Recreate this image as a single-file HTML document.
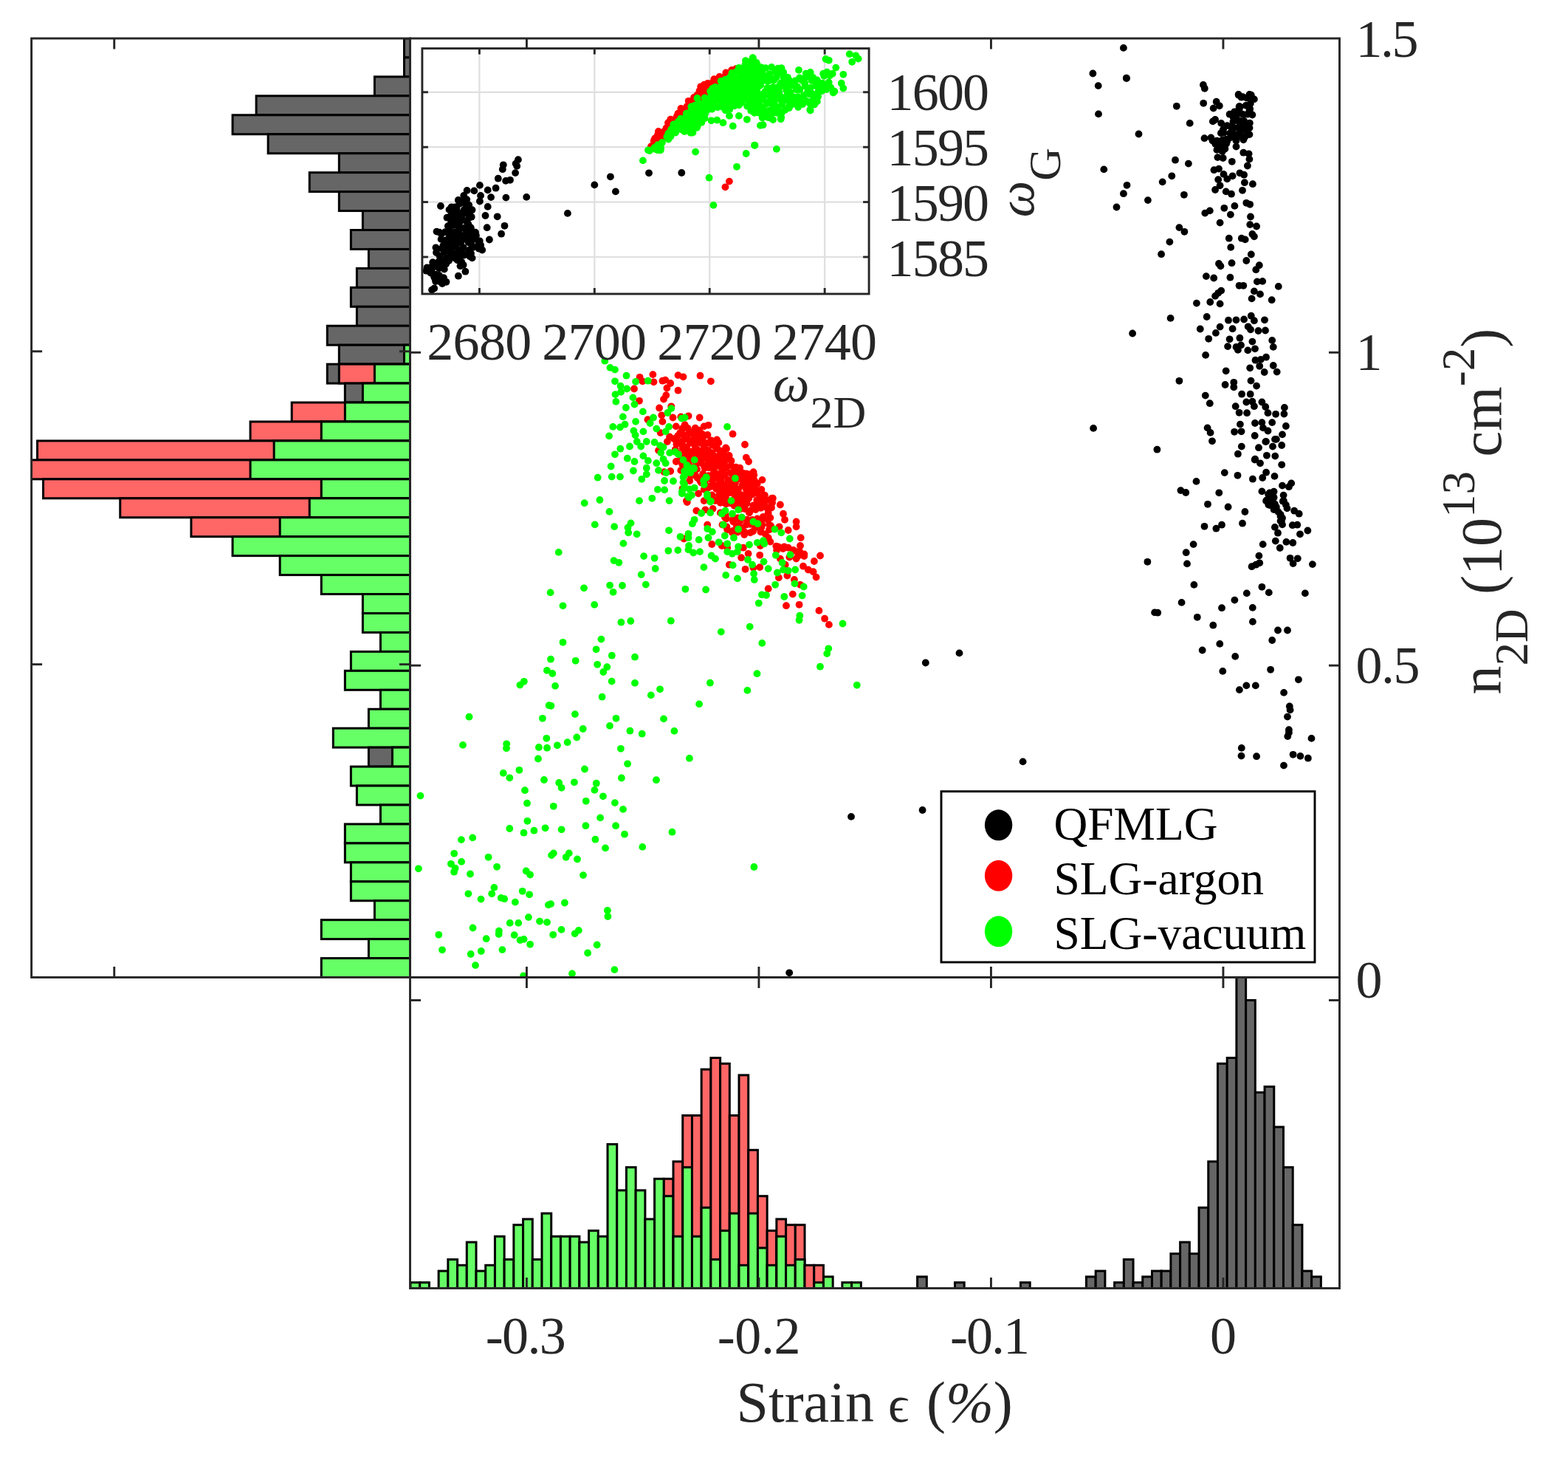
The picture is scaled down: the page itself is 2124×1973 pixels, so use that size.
<!DOCTYPE html><html><head><meta charset="utf-8"><title>Strain vs carrier density</title><style>html,body{margin:0;padding:0;background:#fff;width:2124px;height:1973px;overflow:hidden}</style></head><body><svg width="2124" height="1973" viewBox="0 0 2124 1973" style="position:absolute;left:0;top:0">
<defs><clipPath id="cm"><rect x="555.5" y="52.0" width="1259.0" height="1271.5"/></clipPath><clipPath id="cb"><rect x="555.5" y="1323.5" width="1259.0" height="421.0"/></clipPath><clipPath id="cl"><rect x="42.6" y="52.0" width="512.9" height="1271.5"/></clipPath><clipPath id="ci"><rect x="571.9" y="65.6" width="605.1999999999999" height="332.4"/></clipPath></defs>
<rect x="0" y="0" width="2124" height="1973" fill="#fff"/>
<g clip-path="url(#cl)">
<rect x="547.49" y="52.00" width="8.01" height="25.95" fill="#666666" stroke="#000" stroke-width="3.0" />
<rect x="547.49" y="77.95" width="8.01" height="25.95" fill="#666666" stroke="#000" stroke-width="3.0" />
<rect x="507.41" y="103.90" width="48.09" height="25.95" fill="#666666" stroke="#000" stroke-width="3.0" />
<rect x="347.11" y="129.85" width="208.39" height="25.95" fill="#666666" stroke="#000" stroke-width="3.0" />
<rect x="315.05" y="155.80" width="240.45" height="25.95" fill="#666666" stroke="#000" stroke-width="3.0" />
<rect x="363.14" y="181.75" width="192.36" height="25.95" fill="#666666" stroke="#000" stroke-width="3.0" />
<rect x="459.32" y="207.70" width="96.18" height="25.95" fill="#666666" stroke="#000" stroke-width="3.0" />
<rect x="419.25" y="233.65" width="136.25" height="25.95" fill="#666666" stroke="#000" stroke-width="3.0" />
<rect x="459.32" y="259.60" width="96.18" height="25.95" fill="#666666" stroke="#000" stroke-width="3.0" />
<rect x="491.38" y="285.55" width="64.12" height="25.95" fill="#666666" stroke="#000" stroke-width="3.0" />
<rect x="475.35" y="311.50" width="80.15" height="25.95" fill="#666666" stroke="#000" stroke-width="3.0" />
<rect x="499.39" y="337.45" width="56.11" height="25.95" fill="#666666" stroke="#000" stroke-width="3.0" />
<rect x="483.37" y="363.40" width="72.13" height="25.95" fill="#666666" stroke="#000" stroke-width="3.0" />
<rect x="475.35" y="389.35" width="80.15" height="25.95" fill="#666666" stroke="#000" stroke-width="3.0" />
<rect x="483.37" y="415.30" width="72.13" height="25.95" fill="#666666" stroke="#000" stroke-width="3.0" />
<rect x="443.29" y="441.25" width="112.21" height="25.95" fill="#666666" stroke="#000" stroke-width="3.0" />
<rect x="459.32" y="467.20" width="96.18" height="25.95" fill="#666666" stroke="#000" stroke-width="3.0" />
<rect x="547.49" y="467.20" width="8.01" height="25.95" fill="#66ff66" stroke="#000" stroke-width="3.0" />
<rect x="443.29" y="493.15" width="112.21" height="25.95" fill="#666666" stroke="#000" stroke-width="3.0" />
<rect x="459.32" y="493.15" width="96.18" height="25.95" fill="#ff6666" stroke="#000" stroke-width="3.0" />
<rect x="507.41" y="493.15" width="48.09" height="25.95" fill="#66ff66" stroke="#000" stroke-width="3.0" />
<rect x="467.33" y="519.10" width="88.17" height="25.95" fill="#666666" stroke="#000" stroke-width="3.0" />
<rect x="491.38" y="519.10" width="64.12" height="25.95" fill="#66ff66" stroke="#000" stroke-width="3.0" />
<rect x="395.20" y="545.05" width="160.30" height="25.95" fill="#ff6666" stroke="#000" stroke-width="3.0" />
<rect x="467.33" y="545.05" width="88.17" height="25.95" fill="#66ff66" stroke="#000" stroke-width="3.0" />
<rect x="339.09" y="571.00" width="216.41" height="25.95" fill="#ff6666" stroke="#000" stroke-width="3.0" />
<rect x="435.27" y="571.00" width="120.23" height="25.95" fill="#66ff66" stroke="#000" stroke-width="3.0" />
<rect x="50.55" y="596.95" width="504.95" height="25.95" fill="#ff6666" stroke="#000" stroke-width="3.0" />
<rect x="371.15" y="596.95" width="184.35" height="25.95" fill="#66ff66" stroke="#000" stroke-width="3.0" />
<rect x="-5.55" y="622.90" width="561.05" height="25.95" fill="#ff6666" stroke="#000" stroke-width="3.0" />
<rect x="339.09" y="622.90" width="216.41" height="25.95" fill="#66ff66" stroke="#000" stroke-width="3.0" />
<rect x="58.57" y="648.85" width="496.93" height="25.95" fill="#ff6666" stroke="#000" stroke-width="3.0" />
<rect x="435.27" y="648.85" width="120.23" height="25.95" fill="#66ff66" stroke="#000" stroke-width="3.0" />
<rect x="162.76" y="674.80" width="392.74" height="25.95" fill="#ff6666" stroke="#000" stroke-width="3.0" />
<rect x="419.25" y="674.80" width="136.25" height="25.95" fill="#66ff66" stroke="#000" stroke-width="3.0" />
<rect x="258.94" y="700.75" width="296.56" height="25.95" fill="#ff6666" stroke="#000" stroke-width="3.0" />
<rect x="379.17" y="700.75" width="176.33" height="25.95" fill="#66ff66" stroke="#000" stroke-width="3.0" />
<rect x="315.05" y="726.70" width="240.45" height="25.95" fill="#66ff66" stroke="#000" stroke-width="3.0" />
<rect x="379.17" y="752.65" width="176.33" height="25.95" fill="#66ff66" stroke="#000" stroke-width="3.0" />
<rect x="435.27" y="778.60" width="120.23" height="25.95" fill="#66ff66" stroke="#000" stroke-width="3.0" />
<rect x="491.38" y="804.55" width="64.12" height="25.95" fill="#66ff66" stroke="#000" stroke-width="3.0" />
<rect x="491.38" y="830.50" width="64.12" height="25.95" fill="#66ff66" stroke="#000" stroke-width="3.0" />
<rect x="515.42" y="856.45" width="40.08" height="25.95" fill="#66ff66" stroke="#000" stroke-width="3.0" />
<rect x="475.35" y="882.40" width="80.15" height="25.95" fill="#66ff66" stroke="#000" stroke-width="3.0" />
<rect x="467.33" y="908.35" width="88.17" height="25.95" fill="#66ff66" stroke="#000" stroke-width="3.0" />
<rect x="515.42" y="934.30" width="40.08" height="25.95" fill="#66ff66" stroke="#000" stroke-width="3.0" />
<rect x="499.39" y="960.25" width="56.11" height="25.95" fill="#66ff66" stroke="#000" stroke-width="3.0" />
<rect x="451.31" y="986.20" width="104.19" height="25.95" fill="#66ff66" stroke="#000" stroke-width="3.0" />
<rect x="499.39" y="1012.15" width="56.11" height="25.95" fill="#666666" stroke="#000" stroke-width="3.0" />
<rect x="531.46" y="1012.15" width="24.04" height="25.95" fill="#66ff66" stroke="#000" stroke-width="3.0" />
<rect x="475.35" y="1038.10" width="80.15" height="25.95" fill="#66ff66" stroke="#000" stroke-width="3.0" />
<rect x="483.37" y="1064.05" width="72.13" height="25.95" fill="#66ff66" stroke="#000" stroke-width="3.0" />
<rect x="515.42" y="1090.00" width="40.08" height="25.95" fill="#66ff66" stroke="#000" stroke-width="3.0" />
<rect x="467.33" y="1115.95" width="88.17" height="25.95" fill="#66ff66" stroke="#000" stroke-width="3.0" />
<rect x="467.33" y="1141.90" width="88.17" height="25.95" fill="#66ff66" stroke="#000" stroke-width="3.0" />
<rect x="475.35" y="1167.85" width="80.15" height="25.95" fill="#66ff66" stroke="#000" stroke-width="3.0" />
<rect x="475.35" y="1193.80" width="80.15" height="25.95" fill="#66ff66" stroke="#000" stroke-width="3.0" />
<rect x="507.41" y="1219.75" width="48.09" height="25.95" fill="#66ff66" stroke="#000" stroke-width="3.0" />
<rect x="435.27" y="1245.70" width="120.23" height="25.95" fill="#66ff66" stroke="#000" stroke-width="3.0" />
<rect x="499.39" y="1271.65" width="56.11" height="25.95" fill="#66ff66" stroke="#000" stroke-width="3.0" />
<rect x="435.27" y="1297.60" width="120.23" height="25.95" fill="#66ff66" stroke="#000" stroke-width="3.0" />
</g>
<g clip-path="url(#cb)">
<rect x="556.00" y="1736.70" width="12.72" height="7.80" fill="#66ff66" stroke="#000" stroke-width="3.0" />
<rect x="568.72" y="1736.70" width="12.71" height="7.80" fill="#66ff66" stroke="#000" stroke-width="3.0" />
<rect x="594.14" y="1721.10" width="12.72" height="23.40" fill="#66ff66" stroke="#000" stroke-width="3.0" />
<rect x="606.86" y="1705.50" width="12.72" height="39.00" fill="#66ff66" stroke="#000" stroke-width="3.0" />
<rect x="619.58" y="1713.30" width="12.71" height="31.20" fill="#66ff66" stroke="#000" stroke-width="3.0" />
<rect x="632.29" y="1682.10" width="12.72" height="62.40" fill="#66ff66" stroke="#000" stroke-width="3.0" />
<rect x="645.00" y="1721.10" width="12.72" height="23.40" fill="#66ff66" stroke="#000" stroke-width="3.0" />
<rect x="657.72" y="1713.30" width="12.71" height="31.20" fill="#66ff66" stroke="#000" stroke-width="3.0" />
<rect x="670.43" y="1674.30" width="12.72" height="70.20" fill="#66ff66" stroke="#000" stroke-width="3.0" />
<rect x="683.15" y="1705.50" width="12.72" height="39.00" fill="#66ff66" stroke="#000" stroke-width="3.0" />
<rect x="695.87" y="1658.70" width="12.71" height="85.80" fill="#66ff66" stroke="#000" stroke-width="3.0" />
<rect x="708.58" y="1650.90" width="12.72" height="93.60" fill="#66ff66" stroke="#000" stroke-width="3.0" />
<rect x="721.29" y="1705.50" width="12.72" height="39.00" fill="#66ff66" stroke="#000" stroke-width="3.0" />
<rect x="734.01" y="1643.10" width="12.72" height="101.40" fill="#66ff66" stroke="#000" stroke-width="3.0" />
<rect x="746.73" y="1674.30" width="12.72" height="70.20" fill="#66ff66" stroke="#000" stroke-width="3.0" />
<rect x="759.44" y="1674.30" width="12.71" height="70.20" fill="#66ff66" stroke="#000" stroke-width="3.0" />
<rect x="772.15" y="1674.30" width="12.72" height="70.20" fill="#66ff66" stroke="#000" stroke-width="3.0" />
<rect x="784.87" y="1682.10" width="12.72" height="62.40" fill="#66ff66" stroke="#000" stroke-width="3.0" />
<rect x="797.59" y="1666.50" width="12.71" height="78.00" fill="#66ff66" stroke="#000" stroke-width="3.0" />
<rect x="810.30" y="1674.30" width="12.72" height="70.20" fill="#66ff66" stroke="#000" stroke-width="3.0" />
<rect x="823.01" y="1549.50" width="12.72" height="195.00" fill="#66ff66" stroke="#000" stroke-width="3.0" />
<rect x="835.73" y="1611.90" width="12.71" height="132.60" fill="#66ff66" stroke="#000" stroke-width="3.0" />
<rect x="848.44" y="1580.70" width="12.72" height="163.80" fill="#66ff66" stroke="#000" stroke-width="3.0" />
<rect x="861.16" y="1611.90" width="12.72" height="132.60" fill="#66ff66" stroke="#000" stroke-width="3.0" />
<rect x="873.88" y="1650.90" width="12.71" height="93.60" fill="#66ff66" stroke="#000" stroke-width="3.0" />
<rect x="886.59" y="1596.30" width="12.72" height="148.20" fill="#66ff66" stroke="#000" stroke-width="3.0" />
<rect x="899.31" y="1596.30" width="12.71" height="148.20" fill="#ff6666" stroke="#000" stroke-width="3.0" />
<rect x="899.31" y="1619.70" width="12.71" height="124.80" fill="#66ff66" stroke="#000" stroke-width="3.0" />
<rect x="912.02" y="1572.90" width="12.72" height="171.60" fill="#ff6666" stroke="#000" stroke-width="3.0" />
<rect x="912.02" y="1674.30" width="12.72" height="70.20" fill="#66ff66" stroke="#000" stroke-width="3.0" />
<rect x="924.74" y="1510.50" width="12.72" height="234.00" fill="#ff6666" stroke="#000" stroke-width="3.0" />
<rect x="924.74" y="1580.70" width="12.72" height="163.80" fill="#66ff66" stroke="#000" stroke-width="3.0" />
<rect x="937.45" y="1510.50" width="12.71" height="234.00" fill="#ff6666" stroke="#000" stroke-width="3.0" />
<rect x="937.45" y="1674.30" width="12.71" height="70.20" fill="#66ff66" stroke="#000" stroke-width="3.0" />
<rect x="950.16" y="1448.10" width="12.72" height="296.40" fill="#ff6666" stroke="#000" stroke-width="3.0" />
<rect x="950.16" y="1635.30" width="12.72" height="109.20" fill="#66ff66" stroke="#000" stroke-width="3.0" />
<rect x="962.88" y="1432.50" width="12.72" height="312.00" fill="#ff6666" stroke="#000" stroke-width="3.0" />
<rect x="962.88" y="1705.50" width="12.72" height="39.00" fill="#66ff66" stroke="#000" stroke-width="3.0" />
<rect x="975.60" y="1440.30" width="12.71" height="304.20" fill="#ff6666" stroke="#000" stroke-width="3.0" />
<rect x="975.60" y="1666.50" width="12.71" height="78.00" fill="#66ff66" stroke="#000" stroke-width="3.0" />
<rect x="988.31" y="1510.50" width="12.72" height="234.00" fill="#ff6666" stroke="#000" stroke-width="3.0" />
<rect x="988.31" y="1643.10" width="12.72" height="101.40" fill="#66ff66" stroke="#000" stroke-width="3.0" />
<rect x="1001.02" y="1455.90" width="12.72" height="288.60" fill="#ff6666" stroke="#000" stroke-width="3.0" />
<rect x="1001.02" y="1713.30" width="12.72" height="31.20" fill="#66ff66" stroke="#000" stroke-width="3.0" />
<rect x="1013.74" y="1557.30" width="12.71" height="187.20" fill="#ff6666" stroke="#000" stroke-width="3.0" />
<rect x="1013.74" y="1643.10" width="12.71" height="101.40" fill="#66ff66" stroke="#000" stroke-width="3.0" />
<rect x="1026.45" y="1619.70" width="12.72" height="124.80" fill="#ff6666" stroke="#000" stroke-width="3.0" />
<rect x="1026.45" y="1689.90" width="12.72" height="54.60" fill="#66ff66" stroke="#000" stroke-width="3.0" />
<rect x="1039.17" y="1666.50" width="12.71" height="78.00" fill="#ff6666" stroke="#000" stroke-width="3.0" />
<rect x="1039.17" y="1713.30" width="12.71" height="31.20" fill="#66ff66" stroke="#000" stroke-width="3.0" />
<rect x="1051.88" y="1650.90" width="12.71" height="93.60" fill="#ff6666" stroke="#000" stroke-width="3.0" />
<rect x="1051.88" y="1674.30" width="12.71" height="70.20" fill="#66ff66" stroke="#000" stroke-width="3.0" />
<rect x="1064.60" y="1658.70" width="12.72" height="85.80" fill="#ff6666" stroke="#000" stroke-width="3.0" />
<rect x="1064.60" y="1713.30" width="12.72" height="31.20" fill="#66ff66" stroke="#000" stroke-width="3.0" />
<rect x="1077.32" y="1658.70" width="12.71" height="85.80" fill="#ff6666" stroke="#000" stroke-width="3.0" />
<rect x="1077.32" y="1705.50" width="12.71" height="39.00" fill="#66ff66" stroke="#000" stroke-width="3.0" />
<rect x="1090.03" y="1713.30" width="12.71" height="31.20" fill="#ff6666" stroke="#000" stroke-width="3.0" />
<rect x="1102.74" y="1713.30" width="12.72" height="31.20" fill="#ff6666" stroke="#000" stroke-width="3.0" />
<rect x="1102.74" y="1736.70" width="12.72" height="7.80" fill="#66ff66" stroke="#000" stroke-width="3.0" />
<rect x="1115.46" y="1728.90" width="12.71" height="15.60" fill="#66ff66" stroke="#000" stroke-width="3.0" />
<rect x="1140.89" y="1736.70" width="12.72" height="7.80" fill="#66ff66" stroke="#000" stroke-width="3.0" />
<rect x="1153.61" y="1736.70" width="12.71" height="7.80" fill="#66ff66" stroke="#000" stroke-width="3.0" />
<rect x="1242.61" y="1728.90" width="12.71" height="15.60" fill="#666666" stroke="#000" stroke-width="3.0" />
<rect x="1293.47" y="1736.70" width="12.71" height="7.80" fill="#666666" stroke="#000" stroke-width="3.0" />
<rect x="1382.47" y="1736.70" width="12.72" height="7.80" fill="#666666" stroke="#000" stroke-width="3.0" />
<rect x="1471.48" y="1728.90" width="12.71" height="15.60" fill="#666666" stroke="#000" stroke-width="3.0" />
<rect x="1484.19" y="1721.10" width="12.71" height="23.40" fill="#666666" stroke="#000" stroke-width="3.0" />
<rect x="1509.62" y="1736.70" width="12.72" height="7.80" fill="#666666" stroke="#000" stroke-width="3.0" />
<rect x="1522.34" y="1705.50" width="12.71" height="39.00" fill="#666666" stroke="#000" stroke-width="3.0" />
<rect x="1535.05" y="1736.70" width="12.72" height="7.80" fill="#666666" stroke="#000" stroke-width="3.0" />
<rect x="1547.77" y="1728.90" width="12.72" height="15.60" fill="#666666" stroke="#000" stroke-width="3.0" />
<rect x="1560.49" y="1721.10" width="12.71" height="23.40" fill="#666666" stroke="#000" stroke-width="3.0" />
<rect x="1573.20" y="1721.10" width="12.71" height="23.40" fill="#666666" stroke="#000" stroke-width="3.0" />
<rect x="1585.91" y="1697.70" width="12.71" height="46.80" fill="#666666" stroke="#000" stroke-width="3.0" />
<rect x="1598.63" y="1682.10" width="12.72" height="62.40" fill="#666666" stroke="#000" stroke-width="3.0" />
<rect x="1611.35" y="1697.70" width="12.71" height="46.80" fill="#666666" stroke="#000" stroke-width="3.0" />
<rect x="1624.06" y="1635.30" width="12.72" height="109.20" fill="#666666" stroke="#000" stroke-width="3.0" />
<rect x="1636.78" y="1572.90" width="12.71" height="171.60" fill="#666666" stroke="#000" stroke-width="3.0" />
<rect x="1649.49" y="1440.30" width="12.71" height="304.20" fill="#666666" stroke="#000" stroke-width="3.0" />
<rect x="1662.20" y="1432.50" width="12.72" height="312.00" fill="#666666" stroke="#000" stroke-width="3.0" />
<rect x="1674.92" y="1276.50" width="12.71" height="468.00" fill="#666666" stroke="#000" stroke-width="3.0" />
<rect x="1687.63" y="1354.50" width="12.71" height="390.00" fill="#666666" stroke="#000" stroke-width="3.0" />
<rect x="1700.35" y="1479.30" width="12.72" height="265.20" fill="#666666" stroke="#000" stroke-width="3.0" />
<rect x="1713.07" y="1471.50" width="12.71" height="273.00" fill="#666666" stroke="#000" stroke-width="3.0" />
<rect x="1725.78" y="1526.10" width="12.71" height="218.40" fill="#666666" stroke="#000" stroke-width="3.0" />
<rect x="1738.49" y="1580.70" width="12.72" height="163.80" fill="#666666" stroke="#000" stroke-width="3.0" />
<rect x="1751.21" y="1658.70" width="12.71" height="85.80" fill="#666666" stroke="#000" stroke-width="3.0" />
<rect x="1763.92" y="1721.10" width="12.71" height="23.40" fill="#666666" stroke="#000" stroke-width="3.0" />
<rect x="1776.64" y="1728.90" width="12.72" height="15.60" fill="#666666" stroke="#000" stroke-width="3.0" />
</g>
<g clip-path="url(#cm)">
<g fill="#000"><circle cx="1521.9" cy="64.9" r="4.9"/><circle cx="1526.0" cy="106.0" r="4.9"/><circle cx="1629.9" cy="114.9" r="4.9"/><circle cx="1631.8" cy="119.8" r="4.9"/><circle cx="1630.2" cy="139.8" r="4.9"/><circle cx="1593.8" cy="143.8" r="4.9"/><circle cx="1611.7" cy="166.9" r="4.9"/><circle cx="1542.5" cy="181.5" r="4.9"/><circle cx="1592.0" cy="216.7" r="4.9"/><circle cx="1609.9" cy="221.6" r="4.9"/><circle cx="1587.3" cy="238.3" r="4.9"/><circle cx="1574.7" cy="246.4" r="4.9"/><circle cx="1526.5" cy="250.8" r="4.9"/><circle cx="1521.9" cy="262.2" r="4.9"/><circle cx="1554.9" cy="271.1" r="4.9"/><circle cx="1512.5" cy="280.5" r="4.9"/><circle cx="1603.9" cy="263.8" r="4.9"/><circle cx="1677.8" cy="128.7" r="4.9"/><circle cx="1683.4" cy="131.2" r="4.9"/><circle cx="1694.8" cy="128.7" r="4.9"/><circle cx="1698.9" cy="134.4" r="4.9"/><circle cx="1647.7" cy="137.7" r="4.9"/><circle cx="1651.8" cy="143.3" r="4.9"/><circle cx="1643.7" cy="146.6" r="4.9"/><circle cx="1678.6" cy="144.2" r="4.9"/><circle cx="1693.2" cy="147.4" r="4.9"/><circle cx="1665.6" cy="154.7" r="4.9"/><circle cx="1672.1" cy="151.5" r="4.9"/><circle cx="1678.6" cy="153.9" r="4.9"/><circle cx="1689.9" cy="154.7" r="4.9"/><circle cx="1646.1" cy="162.0" r="4.9"/><circle cx="1642.9" cy="164.4" r="4.9"/><circle cx="1654.2" cy="166.9" r="4.9"/><circle cx="1662.3" cy="170.1" r="4.9"/><circle cx="1676.9" cy="163.6" r="4.9"/><circle cx="1685.1" cy="163.6" r="4.9"/><circle cx="1690.7" cy="170.1" r="4.9"/><circle cx="1686.7" cy="175.8" r="4.9"/><circle cx="1672.1" cy="173.4" r="4.9"/><circle cx="1657.5" cy="179.9" r="4.9"/><circle cx="1668.8" cy="181.5" r="4.9"/><circle cx="1680.2" cy="184.7" r="4.9"/><circle cx="1686.7" cy="184.7" r="4.9"/><circle cx="1631.5" cy="187.2" r="4.9"/><circle cx="1640.4" cy="186.4" r="4.9"/><circle cx="1647.7" cy="191.2" r="4.9"/><circle cx="1655.8" cy="189.6" r="4.9"/><circle cx="1662.3" cy="191.2" r="4.9"/><circle cx="1649.4" cy="197.7" r="4.9"/><circle cx="1659.1" cy="201.0" r="4.9"/><circle cx="1655.8" cy="205.0" r="4.9"/><circle cx="1674.5" cy="198.5" r="4.9"/><circle cx="1684.3" cy="206.7" r="4.9"/><circle cx="1691.6" cy="208.3" r="4.9"/><circle cx="1692.4" cy="215.6" r="4.9"/><circle cx="1689.9" cy="224.5" r="4.9"/><circle cx="1649.4" cy="213.1" r="4.9"/><circle cx="1656.7" cy="214.0" r="4.9"/><circle cx="1668.8" cy="218.8" r="4.9"/><circle cx="1644.5" cy="230.2" r="4.9"/><circle cx="1651.0" cy="228.6" r="4.9"/><circle cx="1657.5" cy="235.9" r="4.9"/><circle cx="1662.3" cy="242.4" r="4.9"/><circle cx="1669.6" cy="238.3" r="4.9"/><circle cx="1679.4" cy="234.3" r="4.9"/><circle cx="1685.1" cy="236.7" r="4.9"/><circle cx="1650.2" cy="243.2" r="4.9"/><circle cx="1652.6" cy="251.3" r="4.9"/><circle cx="1646.1" cy="257.0" r="4.9"/><circle cx="1660.7" cy="259.4" r="4.9"/><circle cx="1668.0" cy="262.7" r="4.9"/><circle cx="1685.9" cy="247.2" r="4.9"/><circle cx="1696.9" cy="249.2" r="4.9"/><circle cx="1683.0" cy="257.8" r="4.9"/><circle cx="1688.3" cy="274.8" r="4.9"/><circle cx="1693.2" cy="276.8" r="4.9"/><circle cx="1672.4" cy="278.9" r="4.9"/><circle cx="1658.3" cy="281.8" r="4.9"/><circle cx="1632.3" cy="288.6" r="4.9"/><circle cx="1638.8" cy="285.4" r="4.9"/><circle cx="1666.9" cy="290.6" r="4.9"/><circle cx="1652.6" cy="301.6" r="4.9"/><circle cx="1694.0" cy="293.5" r="4.9"/><circle cx="1693.2" cy="304.1" r="4.9"/><circle cx="1702.1" cy="306.5" r="4.9"/><circle cx="1597.4" cy="308.1" r="4.9"/><circle cx="1604.4" cy="313.8" r="4.9"/><circle cx="1664.8" cy="322.7" r="4.9"/><circle cx="1681.8" cy="322.7" r="4.9"/><circle cx="1686.7" cy="324.4" r="4.9"/><circle cx="1696.4" cy="317.0" r="4.9"/><circle cx="1698.9" cy="320.3" r="4.9"/><circle cx="1584.4" cy="327.6" r="4.9"/><circle cx="1667.2" cy="334.9" r="4.9"/><circle cx="1573.1" cy="344.2" r="4.9"/><circle cx="1694.8" cy="344.5" r="4.9"/><circle cx="1688.3" cy="353.0" r="4.9"/><circle cx="1651.0" cy="357.0" r="4.9"/><circle cx="1653.4" cy="360.3" r="4.9"/><circle cx="1668.5" cy="356.2" r="4.9"/><circle cx="1705.8" cy="359.2" r="4.9"/><circle cx="1701.3" cy="365.2" r="4.9"/><circle cx="1633.9" cy="374.1" r="4.9"/><circle cx="1644.2" cy="376.5" r="4.9"/><circle cx="1666.4" cy="375.7" r="4.9"/><circle cx="1702.9" cy="381.4" r="4.9"/><circle cx="1710.2" cy="380.9" r="4.9"/><circle cx="1678.6" cy="386.8" r="4.9"/><circle cx="1684.3" cy="386.8" r="4.9"/><circle cx="1731.8" cy="387.9" r="4.9"/><circle cx="1654.2" cy="393.6" r="4.9"/><circle cx="1650.2" cy="396.8" r="4.9"/><circle cx="1646.1" cy="400.9" r="4.9"/><circle cx="1698.9" cy="394.4" r="4.9"/><circle cx="1707.0" cy="398.4" r="4.9"/><circle cx="1695.6" cy="404.4" r="4.9"/><circle cx="1722.7" cy="406.2" r="4.9"/><circle cx="1620.9" cy="410.6" r="4.9"/><circle cx="1639.3" cy="409.0" r="4.9"/><circle cx="1652.6" cy="411.4" r="4.9"/><circle cx="1585.6" cy="430.9" r="4.9"/><circle cx="1634.7" cy="429.0" r="4.9"/><circle cx="1664.0" cy="433.7" r="4.9"/><circle cx="1674.5" cy="433.3" r="4.9"/><circle cx="1685.1" cy="432.5" r="4.9"/><circle cx="1694.8" cy="427.7" r="4.9"/><circle cx="1698.9" cy="434.2" r="4.9"/><circle cx="1713.0" cy="433.3" r="4.9"/><circle cx="1625.8" cy="445.5" r="4.9"/><circle cx="1652.6" cy="442.6" r="4.9"/><circle cx="1646.9" cy="450.9" r="4.9"/><circle cx="1669.6" cy="445.2" r="4.9"/><circle cx="1690.7" cy="442.3" r="4.9"/><circle cx="1694.0" cy="446.3" r="4.9"/><circle cx="1704.5" cy="448.0" r="4.9"/><circle cx="1714.0" cy="447.5" r="4.9"/><circle cx="1534.1" cy="451.5" r="4.9"/><circle cx="1637.2" cy="458.8" r="4.9"/><circle cx="1665.6" cy="459.3" r="4.9"/><circle cx="1679.4" cy="457.7" r="4.9"/><circle cx="1696.4" cy="462.6" r="4.9"/><circle cx="1723.2" cy="460.9" r="4.9"/><circle cx="1663.1" cy="469.1" r="4.9"/><circle cx="1674.5" cy="469.9" r="4.9"/><circle cx="1681.0" cy="467.4" r="4.9"/><circle cx="1676.9" cy="473.9" r="4.9"/><circle cx="1690.3" cy="474.4" r="4.9"/><circle cx="1700.0" cy="472.3" r="4.9"/><circle cx="1724.8" cy="469.9" r="4.9"/><circle cx="1633.1" cy="480.9" r="4.9"/><circle cx="1700.5" cy="487.7" r="4.9"/><circle cx="1707.8" cy="486.9" r="4.9"/><circle cx="1715.1" cy="483.7" r="4.9"/><circle cx="1693.2" cy="498.3" r="4.9"/><circle cx="1706.2" cy="495.8" r="4.9"/><circle cx="1712.7" cy="504.0" r="4.9"/><circle cx="1724.8" cy="495.0" r="4.9"/><circle cx="1729.7" cy="503.6" r="4.9"/><circle cx="1660.7" cy="502.3" r="4.9"/><circle cx="1597.4" cy="515.8" r="4.9"/><circle cx="1659.6" cy="521.0" r="4.9"/><circle cx="1671.3" cy="517.8" r="4.9"/><circle cx="1671.3" cy="524.3" r="4.9"/><circle cx="1694.5" cy="515.6" r="4.9"/><circle cx="1702.1" cy="522.6" r="4.9"/><circle cx="1632.8" cy="535.6" r="4.9"/><circle cx="1638.8" cy="546.2" r="4.9"/><circle cx="1682.1" cy="533.7" r="4.9"/><circle cx="1693.7" cy="533.7" r="4.9"/><circle cx="1673.7" cy="550.2" r="4.9"/><circle cx="1678.6" cy="558.8" r="4.9"/><circle cx="1688.3" cy="544.5" r="4.9"/><circle cx="1696.4" cy="543.7" r="4.9"/><circle cx="1698.9" cy="550.2" r="4.9"/><circle cx="1689.1" cy="559.2" r="4.9"/><circle cx="1709.4" cy="544.5" r="4.9"/><circle cx="1714.3" cy="551.0" r="4.9"/><circle cx="1717.5" cy="559.2" r="4.9"/><circle cx="1728.1" cy="560.8" r="4.9"/><circle cx="1739.9" cy="551.9" r="4.9"/><circle cx="1739.4" cy="560.5" r="4.9"/><circle cx="1635.6" cy="579.4" r="4.9"/><circle cx="1639.6" cy="585.9" r="4.9"/><circle cx="1679.9" cy="574.6" r="4.9"/><circle cx="1672.1" cy="584.8" r="4.9"/><circle cx="1681.5" cy="584.3" r="4.9"/><circle cx="1700.0" cy="573.0" r="4.9"/><circle cx="1709.4" cy="572.1" r="4.9"/><circle cx="1723.2" cy="572.1" r="4.9"/><circle cx="1711.0" cy="579.4" r="4.9"/><circle cx="1717.5" cy="583.5" r="4.9"/><circle cx="1741.9" cy="577.0" r="4.9"/><circle cx="1699.7" cy="590.0" r="4.9"/><circle cx="1737.0" cy="588.4" r="4.9"/><circle cx="1728.9" cy="594.9" r="4.9"/><circle cx="1714.3" cy="598.1" r="4.9"/><circle cx="1736.2" cy="603.0" r="4.9"/><circle cx="1724.0" cy="604.6" r="4.9"/><circle cx="1705.0" cy="606.2" r="4.9"/><circle cx="1642.0" cy="597.3" r="4.9"/><circle cx="1567.4" cy="608.7" r="4.9"/><circle cx="1681.8" cy="604.6" r="4.9"/><circle cx="1676.9" cy="614.7" r="4.9"/><circle cx="1715.9" cy="616.8" r="4.9"/><circle cx="1727.3" cy="617.6" r="4.9"/><circle cx="1699.7" cy="622.5" r="4.9"/><circle cx="1707.0" cy="627.3" r="4.9"/><circle cx="1736.2" cy="629.3" r="4.9"/><circle cx="1658.8" cy="640.1" r="4.9"/><circle cx="1676.5" cy="643.8" r="4.9"/><circle cx="1696.9" cy="648.7" r="4.9"/><circle cx="1710.2" cy="647.0" r="4.9"/><circle cx="1715.1" cy="639.7" r="4.9"/><circle cx="1726.5" cy="644.9" r="4.9"/><circle cx="1737.0" cy="657.6" r="4.9"/><circle cx="1745.9" cy="659.2" r="4.9"/><circle cx="1749.2" cy="654.4" r="4.9"/><circle cx="1620.5" cy="651.9" r="4.9"/><circle cx="1599.4" cy="664.1" r="4.9"/><circle cx="1606.3" cy="667.0" r="4.9"/><circle cx="1651.3" cy="667.3" r="4.9"/><circle cx="1709.4" cy="665.4" r="4.9"/><circle cx="1720.0" cy="667.3" r="4.9"/><circle cx="1725.6" cy="665.7" r="4.9"/><circle cx="1715.9" cy="677.1" r="4.9"/><circle cx="1725.6" cy="673.8" r="4.9"/><circle cx="1718.3" cy="683.6" r="4.9"/><circle cx="1738.6" cy="670.6" r="4.9"/><circle cx="1737.8" cy="678.7" r="4.9"/><circle cx="1741.9" cy="683.6" r="4.9"/><circle cx="1743.5" cy="688.4" r="4.9"/><circle cx="1725.6" cy="690.1" r="4.9"/><circle cx="1728.9" cy="686.8" r="4.9"/><circle cx="1734.6" cy="696.6" r="4.9"/><circle cx="1737.0" cy="701.4" r="4.9"/><circle cx="1734.6" cy="705.5" r="4.9"/><circle cx="1737.0" cy="710.4" r="4.9"/><circle cx="1753.2" cy="691.7" r="4.9"/><circle cx="1759.7" cy="695.7" r="4.9"/><circle cx="1636.0" cy="682.8" r="4.9"/><circle cx="1663.6" cy="686.5" r="4.9"/><circle cx="1686.4" cy="693.0" r="4.9"/><circle cx="1631.5" cy="712.8" r="4.9"/><circle cx="1647.4" cy="715.7" r="4.9"/><circle cx="1655.0" cy="710.7" r="4.9"/><circle cx="1683.0" cy="708.7" r="4.9"/><circle cx="1726.9" cy="713.9" r="4.9"/><circle cx="1731.0" cy="721.7" r="4.9"/><circle cx="1750.8" cy="711.2" r="4.9"/><circle cx="1757.3" cy="710.7" r="4.9"/><circle cx="1761.0" cy="723.3" r="4.9"/><circle cx="1771.4" cy="718.5" r="4.9"/><circle cx="1616.6" cy="737.1" r="4.9"/><circle cx="1606.7" cy="748.2" r="4.9"/><circle cx="1608.0" cy="763.4" r="4.9"/><circle cx="1554.4" cy="760.8" r="4.9"/><circle cx="1710.7" cy="737.1" r="4.9"/><circle cx="1727.8" cy="732.6" r="4.9"/><circle cx="1733.8" cy="742.0" r="4.9"/><circle cx="1742.4" cy="733.9" r="4.9"/><circle cx="1751.3" cy="735.0" r="4.9"/><circle cx="1705.4" cy="752.6" r="4.9"/><circle cx="1706.2" cy="762.3" r="4.9"/><circle cx="1701.3" cy="764.7" r="4.9"/><circle cx="1695.6" cy="767.2" r="4.9"/><circle cx="1747.6" cy="755.8" r="4.9"/><circle cx="1757.8" cy="756.3" r="4.9"/><circle cx="1751.6" cy="763.1" r="4.9"/><circle cx="1777.9" cy="764.1" r="4.9"/><circle cx="1617.4" cy="791.9" r="4.9"/><circle cx="1709.4" cy="794.8" r="4.9"/><circle cx="1718.8" cy="802.4" r="4.9"/><circle cx="1688.8" cy="803.4" r="4.9"/><circle cx="1767.9" cy="803.4" r="4.9"/><circle cx="1600.6" cy="815.9" r="4.9"/><circle cx="1672.4" cy="812.6" r="4.9"/><circle cx="1655.0" cy="823.2" r="4.9"/><circle cx="1696.8" cy="822.9" r="4.9"/><circle cx="1564.1" cy="829.4" r="4.9"/><circle cx="1568.2" cy="829.7" r="4.9"/><circle cx="1621.8" cy="835.8" r="4.9"/><circle cx="1643.3" cy="846.7" r="4.9"/><circle cx="1696.9" cy="841.9" r="4.9"/><circle cx="1731.0" cy="853.5" r="4.9"/><circle cx="1744.0" cy="853.5" r="4.9"/><circle cx="1723.2" cy="867.0" r="4.9"/><circle cx="1652.3" cy="871.9" r="4.9"/><circle cx="1628.7" cy="880.5" r="4.9"/><circle cx="1673.2" cy="888.9" r="4.9"/><circle cx="1656.3" cy="908.9" r="4.9"/><circle cx="1721.1" cy="906.8" r="4.9"/><circle cx="1758.9" cy="920.3" r="4.9"/><circle cx="1678.9" cy="934.1" r="4.9"/><circle cx="1688.3" cy="928.4" r="4.9"/><circle cx="1700.8" cy="928.4" r="4.9"/><circle cx="1739.1" cy="937.9" r="4.9"/><circle cx="1746.8" cy="956.5" r="4.9"/><circle cx="1747.6" cy="961.4" r="4.9"/><circle cx="1744.0" cy="970.6" r="4.9"/><circle cx="1745.9" cy="988.2" r="4.9"/><circle cx="1745.9" cy="992.2" r="4.9"/><circle cx="1744.3" cy="997.1" r="4.9"/><circle cx="1776.5" cy="999.9" r="4.9"/><circle cx="1681.8" cy="1012.9" r="4.9"/><circle cx="1681.5" cy="1023.6" r="4.9"/><circle cx="1702.1" cy="1024.2" r="4.9"/><circle cx="1751.6" cy="1021.8" r="4.9"/><circle cx="1761.4" cy="1023.9" r="4.9"/><circle cx="1771.9" cy="1026.7" r="4.9"/><circle cx="1739.0" cy="1036.6" r="4.9"/><circle cx="1480.4" cy="99.5" r="4.9"/><circle cx="1487.7" cy="116.1" r="4.9"/><circle cx="1525.8" cy="105.7" r="4.9"/><circle cx="1488.0" cy="154.4" r="4.9"/><circle cx="1495.3" cy="229.4" r="4.9"/><circle cx="1481.1" cy="579.9" r="4.9"/><circle cx="1253.8" cy="897.5" r="4.9"/><circle cx="1299.5" cy="884.4" r="4.9"/><circle cx="1385.6" cy="1031.4" r="4.9"/><circle cx="1153.0" cy="1105.9" r="4.9"/><circle cx="1249.6" cy="1097.0" r="4.9"/><circle cx="1069.2" cy="1317.3" r="4.9"/><circle cx="1718.1" cy="669.3" r="4.9"/><circle cx="1722.6" cy="675.2" r="4.9"/><circle cx="1727.0" cy="682.7" r="4.9"/><circle cx="1731.5" cy="693.1" r="4.9"/><circle cx="1734.5" cy="699.0" r="4.9"/><circle cx="1736.0" cy="705.0" r="4.9"/><circle cx="1715.1" cy="678.2" r="4.9"/><circle cx="1721.0" cy="684.2" r="4.9"/><circle cx="1738.9" cy="678.2" r="4.9"/><circle cx="1700.2" cy="621.7" r="4.9"/><circle cx="1715.0" cy="597.9" r="4.9"/><circle cx="1727.0" cy="594.9" r="4.9"/><circle cx="1677.6" cy="127.9" r="4.9"/><circle cx="1692.5" cy="127.9" r="4.9"/><circle cx="1681.5" cy="131.7" r="4.9"/><circle cx="1688.6" cy="132.6" r="4.9"/><circle cx="1696.8" cy="133.8" r="4.9"/><circle cx="1679.5" cy="144.5" r="4.9"/><circle cx="1687.7" cy="142.9" r="4.9"/><circle cx="1693.8" cy="140.3" r="4.9"/><circle cx="1675.0" cy="151.3" r="4.9"/><circle cx="1678.7" cy="147.9" r="4.9"/><circle cx="1692.5" cy="149.4" r="4.9"/><circle cx="1670.5" cy="158.6" r="4.9"/><circle cx="1674.8" cy="155.8" r="4.9"/><circle cx="1683.8" cy="154.9" r="4.9"/><circle cx="1696.4" cy="155.5" r="4.9"/><circle cx="1670.5" cy="164.6" r="4.9"/><circle cx="1679.9" cy="163.8" r="4.9"/><circle cx="1692.9" cy="166.6" r="4.9"/><circle cx="1657.0" cy="175.3" r="4.9"/><circle cx="1666.6" cy="171.4" r="4.9"/><circle cx="1678.4" cy="171.8" r="4.9"/><circle cx="1684.7" cy="170.5" r="4.9"/><circle cx="1692.5" cy="173.2" r="4.9"/><circle cx="1653.9" cy="180.2" r="4.9"/><circle cx="1666.1" cy="180.4" r="4.9"/><circle cx="1672.9" cy="182.5" r="4.9"/><circle cx="1679.7" cy="178.6" r="4.9"/><circle cx="1692.5" cy="182.1" r="4.9"/><circle cx="1642.5" cy="190.6" r="4.9"/><circle cx="1648.5" cy="190.6" r="4.9"/><circle cx="1661.2" cy="188.6" r="4.9"/><circle cx="1667.5" cy="186.0" r="4.9"/><circle cx="1674.5" cy="190.6" r="4.9"/><circle cx="1684.4" cy="189.3" r="4.9"/><circle cx="1646.3" cy="194.8" r="4.9"/><circle cx="1652.9" cy="197.1" r="4.9"/><circle cx="1661.2" cy="194.5" r="4.9"/><circle cx="1648.4" cy="202.9" r="4.9"/><circle cx="1659.4" cy="201.6" r="4.9"/></g>
<g fill="#f00"><circle cx="884.4" cy="507.1" r="4.9"/><circle cx="918.5" cy="508.1" r="4.9"/><circle cx="925.5" cy="510.3" r="4.9"/><circle cx="948.5" cy="508.7" r="4.9"/><circle cx="962.9" cy="516.3" r="4.9"/><circle cx="866.6" cy="510.8" r="4.9"/><circle cx="870.3" cy="516.3" r="4.9"/><circle cx="885.5" cy="517.3" r="4.9"/><circle cx="897.4" cy="515.7" r="4.9"/><circle cx="901.2" cy="514.6" r="4.9"/><circle cx="908.2" cy="519.0" r="4.9"/><circle cx="903.4" cy="525.5" r="4.9"/><circle cx="918.5" cy="528.7" r="4.9"/><circle cx="859.0" cy="526.5" r="4.9"/><circle cx="902.3" cy="535.2" r="4.9"/><circle cx="899.0" cy="540.6" r="4.9"/><circle cx="866.0" cy="542.8" r="4.9"/><circle cx="893.1" cy="552.5" r="4.9"/><circle cx="909.3" cy="550.3" r="4.9"/><circle cx="896.3" cy="562.3" r="4.9"/><circle cx="897.4" cy="570.9" r="4.9"/><circle cx="877.4" cy="568.2" r="4.9"/><circle cx="911.5" cy="565.5" r="4.9"/><circle cx="922.3" cy="564.4" r="4.9"/><circle cx="932.6" cy="563.3" r="4.9"/><circle cx="947.7" cy="565.5" r="4.9"/><circle cx="915.8" cy="577.4" r="4.9"/><circle cx="927.7" cy="575.2" r="4.9"/><circle cx="941.8" cy="579.6" r="4.9"/><circle cx="953.7" cy="577.4" r="4.9"/><circle cx="959.6" cy="575.8" r="4.9"/><circle cx="894.7" cy="586.1" r="4.9"/><circle cx="907.1" cy="591.5" r="4.9"/><circle cx="921.2" cy="586.1" r="4.9"/><circle cx="934.2" cy="586.1" r="4.9"/><circle cx="943.9" cy="588.2" r="4.9"/><circle cx="953.7" cy="590.4" r="4.9"/><circle cx="992.6" cy="587.7" r="4.9"/><circle cx="903.9" cy="598.0" r="4.9"/><circle cx="916.9" cy="598.0" r="4.9"/><circle cx="927.7" cy="594.7" r="4.9"/><circle cx="939.6" cy="595.8" r="4.9"/><circle cx="951.5" cy="596.9" r="4.9"/><circle cx="958.0" cy="600.1" r="4.9"/><circle cx="968.8" cy="604.5" r="4.9"/><circle cx="984.0" cy="607.7" r="4.9"/><circle cx="892.0" cy="609.9" r="4.9"/><circle cx="929.9" cy="605.5" r="4.9"/><circle cx="941.8" cy="605.5" r="4.9"/><circle cx="953.7" cy="607.7" r="4.9"/><circle cx="964.5" cy="613.1" r="4.9"/><circle cx="978.6" cy="615.3" r="4.9"/><circle cx="934.2" cy="613.1" r="4.9"/><circle cx="946.1" cy="613.1" r="4.9"/><circle cx="956.9" cy="616.4" r="4.9"/><circle cx="915.8" cy="625.0" r="4.9"/><circle cx="949.4" cy="621.8" r="4.9"/><circle cx="961.3" cy="623.9" r="4.9"/><circle cx="973.2" cy="621.8" r="4.9"/><circle cx="990.5" cy="623.9" r="4.9"/><circle cx="922.3" cy="636.9" r="4.9"/><circle cx="953.7" cy="630.4" r="4.9"/><circle cx="965.6" cy="631.5" r="4.9"/><circle cx="975.3" cy="631.5" r="4.9"/><circle cx="984.0" cy="633.7" r="4.9"/><circle cx="997.0" cy="632.6" r="4.9"/><circle cx="908.2" cy="638.0" r="4.9"/><circle cx="899.6" cy="639.1" r="4.9"/><circle cx="939.6" cy="642.3" r="4.9"/><circle cx="968.8" cy="640.2" r="4.9"/><circle cx="981.8" cy="642.3" r="4.9"/><circle cx="934.2" cy="651.0" r="4.9"/><circle cx="948.3" cy="651.0" r="4.9"/><circle cx="965.6" cy="648.8" r="4.9"/><circle cx="975.3" cy="651.0" r="4.9"/><circle cx="990.5" cy="652.1" r="4.9"/><circle cx="924.5" cy="661.8" r="4.9"/><circle cx="953.7" cy="662.9" r="4.9"/><circle cx="964.5" cy="658.6" r="4.9"/><circle cx="978.6" cy="661.8" r="4.9"/><circle cx="992.6" cy="658.6" r="4.9"/><circle cx="946.1" cy="668.3" r="4.9"/><circle cx="964.5" cy="670.5" r="4.9"/><circle cx="975.3" cy="670.5" r="4.9"/><circle cx="985.1" cy="668.3" r="4.9"/><circle cx="997.0" cy="668.3" r="4.9"/><circle cx="929.9" cy="678.1" r="4.9"/><circle cx="953.7" cy="678.1" r="4.9"/><circle cx="968.8" cy="678.1" r="4.9"/><circle cx="984.0" cy="678.1" r="4.9"/><circle cx="1009.0" cy="602.0" r="4.9"/><circle cx="1010.8" cy="619.6" r="4.9"/><circle cx="1014.1" cy="625.0" r="4.9"/><circle cx="1002.2" cy="633.7" r="4.9"/><circle cx="1010.8" cy="641.3" r="4.9"/><circle cx="1020.6" cy="639.1" r="4.9"/><circle cx="1032.5" cy="649.9" r="4.9"/><circle cx="1006.5" cy="653.2" r="4.9"/><circle cx="1019.5" cy="651.0" r="4.9"/><circle cx="1021.6" cy="657.5" r="4.9"/><circle cx="1013.0" cy="661.8" r="4.9"/><circle cx="1031.4" cy="662.9" r="4.9"/><circle cx="1005.4" cy="670.5" r="4.9"/><circle cx="1014.1" cy="672.6" r="4.9"/><circle cx="1034.6" cy="670.5" r="4.9"/><circle cx="1045.5" cy="674.8" r="4.9"/><circle cx="1027.1" cy="677.0" r="4.9"/><circle cx="930.8" cy="680.1" r="4.9"/><circle cx="943.3" cy="691.6" r="4.9"/><circle cx="955.5" cy="690.3" r="4.9"/><circle cx="965.6" cy="688.9" r="4.9"/><circle cx="975.8" cy="694.4" r="4.9"/><circle cx="983.9" cy="702.5" r="4.9"/><circle cx="993.3" cy="706.5" r="4.9"/><circle cx="1002.8" cy="705.2" r="4.9"/><circle cx="1010.9" cy="710.6" r="4.9"/><circle cx="1019.0" cy="703.8" r="4.9"/><circle cx="1025.8" cy="702.5" r="4.9"/><circle cx="1033.9" cy="699.8" r="4.9"/><circle cx="1040.7" cy="694.4" r="4.9"/><circle cx="1043.4" cy="701.1" r="4.9"/><circle cx="1042.0" cy="710.6" r="4.9"/><circle cx="1056.9" cy="683.5" r="4.9"/><circle cx="1061.0" cy="695.7" r="4.9"/><circle cx="1063.0" cy="703.8" r="4.9"/><circle cx="1055.6" cy="713.3" r="4.9"/><circle cx="1067.7" cy="718.0" r="4.9"/><circle cx="1078.6" cy="706.5" r="4.9"/><circle cx="1078.6" cy="713.3" r="4.9"/><circle cx="958.2" cy="710.6" r="4.9"/><circle cx="978.5" cy="710.6" r="4.9"/><circle cx="985.2" cy="717.3" r="4.9"/><circle cx="992.0" cy="721.4" r="4.9"/><circle cx="1005.5" cy="716.0" r="4.9"/><circle cx="1008.2" cy="724.1" r="4.9"/><circle cx="1016.3" cy="721.4" r="4.9"/><circle cx="1023.1" cy="714.6" r="4.9"/><circle cx="1032.6" cy="710.6" r="4.9"/><circle cx="1042.0" cy="717.3" r="4.9"/><circle cx="1015.0" cy="694.4" r="4.9"/><circle cx="1021.8" cy="686.2" r="4.9"/><circle cx="1029.9" cy="687.6" r="4.9"/><circle cx="1035.3" cy="680.8" r="4.9"/><circle cx="1046.1" cy="680.8" r="4.9"/><circle cx="1008.2" cy="686.2" r="4.9"/><circle cx="994.7" cy="684.9" r="4.9"/><circle cx="983.9" cy="682.2" r="4.9"/><circle cx="975.8" cy="680.8" r="4.9"/><circle cx="926.4" cy="729.5" r="4.9"/><circle cx="964.3" cy="737.0" r="4.9"/><circle cx="977.8" cy="739.0" r="4.9"/><circle cx="985.2" cy="741.7" r="4.9"/><circle cx="1006.9" cy="741.7" r="4.9"/><circle cx="1013.6" cy="749.8" r="4.9"/><circle cx="1004.2" cy="755.2" r="4.9"/><circle cx="1029.9" cy="739.0" r="4.9"/><circle cx="1040.7" cy="728.2" r="4.9"/><circle cx="1043.4" cy="733.6" r="4.9"/><circle cx="1054.2" cy="740.3" r="4.9"/><circle cx="1062.3" cy="740.3" r="4.9"/><circle cx="1067.7" cy="741.7" r="4.9"/><circle cx="1075.9" cy="745.8" r="4.9"/><circle cx="1084.0" cy="739.0" r="4.9"/><circle cx="1078.6" cy="756.6" r="4.9"/><circle cx="1089.4" cy="750.5" r="4.9"/><circle cx="1084.7" cy="728.2" r="4.9"/><circle cx="1111.0" cy="752.5" r="4.9"/><circle cx="1102.9" cy="760.0" r="4.9"/><circle cx="1029.2" cy="751.8" r="4.9"/><circle cx="1056.9" cy="756.6" r="4.9"/><circle cx="1063.7" cy="764.7" r="4.9"/><circle cx="987.9" cy="764.7" r="4.9"/><circle cx="1009.6" cy="770.8" r="4.9"/><circle cx="1020.4" cy="768.8" r="4.9"/><circle cx="1029.2" cy="768.1" r="4.9"/><circle cx="1088.0" cy="766.7" r="4.9"/><circle cx="1094.8" cy="771.5" r="4.9"/><circle cx="1101.6" cy="774.2" r="4.9"/><circle cx="1105.6" cy="781.6" r="4.9"/><circle cx="1054.9" cy="782.3" r="4.9"/><circle cx="1066.4" cy="779.6" r="4.9"/><circle cx="1075.9" cy="785.0" r="4.9"/><circle cx="1084.0" cy="791.8" r="4.9"/><circle cx="1040.7" cy="797.2" r="4.9"/><circle cx="1073.8" cy="804.6" r="4.9"/><circle cx="1065.0" cy="820.2" r="4.9"/><circle cx="1082.6" cy="818.8" r="4.9"/><circle cx="1109.4" cy="826.9" r="4.9"/><circle cx="1117.1" cy="837.7" r="4.9"/><circle cx="1122.9" cy="845.9" r="4.9"/><circle cx="924.4" cy="580.2" r="4.9"/><circle cx="931.7" cy="580.0" r="4.9"/><circle cx="940.5" cy="583.3" r="4.9"/><circle cx="947.1" cy="582.6" r="4.9"/><circle cx="918.1" cy="590.1" r="4.9"/><circle cx="925.8" cy="588.6" r="4.9"/><circle cx="933.3" cy="586.4" r="4.9"/><circle cx="940.0" cy="589.6" r="4.9"/><circle cx="951.2" cy="587.7" r="4.9"/><circle cx="958.5" cy="589.0" r="4.9"/><circle cx="912.9" cy="594.2" r="4.9"/><circle cx="924.4" cy="597.2" r="4.9"/><circle cx="931.5" cy="594.8" r="4.9"/><circle cx="937.0" cy="597.1" r="4.9"/><circle cx="946.1" cy="595.9" r="4.9"/><circle cx="951.5" cy="593.5" r="4.9"/><circle cx="963.2" cy="596.3" r="4.9"/><circle cx="971.1" cy="595.5" r="4.9"/><circle cx="916.4" cy="601.5" r="4.9"/><circle cx="924.9" cy="603.4" r="4.9"/><circle cx="934.9" cy="600.0" r="4.9"/><circle cx="942.2" cy="600.8" r="4.9"/><circle cx="949.9" cy="600.3" r="4.9"/><circle cx="956.0" cy="600.2" r="4.9"/><circle cx="964.8" cy="602.6" r="4.9"/><circle cx="973.4" cy="599.5" r="4.9"/><circle cx="914.8" cy="608.6" r="4.9"/><circle cx="924.7" cy="606.5" r="4.9"/><circle cx="930.9" cy="608.4" r="4.9"/><circle cx="939.3" cy="610.6" r="4.9"/><circle cx="945.2" cy="609.4" r="4.9"/><circle cx="953.9" cy="608.8" r="4.9"/><circle cx="959.4" cy="609.9" r="4.9"/><circle cx="971.6" cy="607.8" r="4.9"/><circle cx="976.3" cy="610.7" r="4.9"/><circle cx="983.1" cy="606.5" r="4.9"/><circle cx="918.5" cy="614.0" r="4.9"/><circle cx="926.0" cy="615.1" r="4.9"/><circle cx="934.9" cy="617.4" r="4.9"/><circle cx="940.1" cy="615.1" r="4.9"/><circle cx="949.9" cy="616.2" r="4.9"/><circle cx="959.4" cy="616.4" r="4.9"/><circle cx="966.1" cy="616.4" r="4.9"/><circle cx="974.1" cy="616.9" r="4.9"/><circle cx="982.0" cy="616.1" r="4.9"/><circle cx="987.7" cy="617.0" r="4.9"/><circle cx="920.8" cy="624.0" r="4.9"/><circle cx="931.4" cy="620.6" r="4.9"/><circle cx="937.4" cy="622.6" r="4.9"/><circle cx="946.8" cy="620.8" r="4.9"/><circle cx="955.9" cy="621.1" r="4.9"/><circle cx="960.4" cy="623.5" r="4.9"/><circle cx="967.7" cy="622.7" r="4.9"/><circle cx="975.7" cy="622.4" r="4.9"/><circle cx="984.0" cy="621.3" r="4.9"/><circle cx="924.2" cy="628.9" r="4.9"/><circle cx="932.3" cy="627.8" r="4.9"/><circle cx="941.9" cy="630.5" r="4.9"/><circle cx="949.2" cy="626.9" r="4.9"/><circle cx="959.0" cy="630.2" r="4.9"/><circle cx="965.6" cy="626.6" r="4.9"/><circle cx="971.8" cy="628.2" r="4.9"/><circle cx="981.2" cy="627.4" r="4.9"/><circle cx="990.3" cy="630.2" r="4.9"/><circle cx="929.4" cy="636.0" r="4.9"/><circle cx="940.0" cy="633.4" r="4.9"/><circle cx="944.0" cy="635.4" r="4.9"/><circle cx="954.6" cy="633.9" r="4.9"/><circle cx="960.4" cy="633.3" r="4.9"/><circle cx="967.2" cy="635.4" r="4.9"/><circle cx="978.0" cy="636.2" r="4.9"/><circle cx="983.3" cy="633.6" r="4.9"/><circle cx="994.7" cy="635.6" r="4.9"/><circle cx="1000.0" cy="636.4" r="4.9"/><circle cx="935.6" cy="644.0" r="4.9"/><circle cx="942.2" cy="644.0" r="4.9"/><circle cx="952.1" cy="641.7" r="4.9"/><circle cx="959.8" cy="644.2" r="4.9"/><circle cx="966.8" cy="639.9" r="4.9"/><circle cx="972.6" cy="642.7" r="4.9"/><circle cx="981.5" cy="643.3" r="4.9"/><circle cx="989.5" cy="640.6" r="4.9"/><circle cx="998.6" cy="642.4" r="4.9"/><circle cx="1006.2" cy="640.7" r="4.9"/><circle cx="1014.5" cy="642.4" r="4.9"/><circle cx="1021.3" cy="643.3" r="4.9"/><circle cx="944.7" cy="647.1" r="4.9"/><circle cx="955.7" cy="649.0" r="4.9"/><circle cx="963.3" cy="649.0" r="4.9"/><circle cx="967.6" cy="647.7" r="4.9"/><circle cx="976.8" cy="649.5" r="4.9"/><circle cx="986.2" cy="650.0" r="4.9"/><circle cx="993.4" cy="647.7" r="4.9"/><circle cx="1000.2" cy="648.4" r="4.9"/><circle cx="1008.3" cy="647.7" r="4.9"/><circle cx="1016.3" cy="648.7" r="4.9"/><circle cx="1021.8" cy="650.5" r="4.9"/><circle cx="949.9" cy="653.6" r="4.9"/><circle cx="957.0" cy="657.1" r="4.9"/><circle cx="965.5" cy="655.5" r="4.9"/><circle cx="972.8" cy="656.3" r="4.9"/><circle cx="981.5" cy="656.5" r="4.9"/><circle cx="990.6" cy="656.8" r="4.9"/><circle cx="996.0" cy="654.5" r="4.9"/><circle cx="1005.7" cy="657.0" r="4.9"/><circle cx="1014.2" cy="654.2" r="4.9"/><circle cx="1021.6" cy="657.5" r="4.9"/><circle cx="1025.8" cy="654.7" r="4.9"/><circle cx="959.9" cy="660.4" r="4.9"/><circle cx="970.3" cy="662.0" r="4.9"/><circle cx="975.4" cy="664.1" r="4.9"/><circle cx="985.6" cy="660.2" r="4.9"/><circle cx="993.7" cy="662.8" r="4.9"/><circle cx="1000.2" cy="662.3" r="4.9"/><circle cx="1010.4" cy="661.9" r="4.9"/><circle cx="1016.8" cy="663.0" r="4.9"/><circle cx="1023.2" cy="661.7" r="4.9"/><circle cx="973.9" cy="670.8" r="4.9"/><circle cx="979.7" cy="667.4" r="4.9"/><circle cx="989.0" cy="667.4" r="4.9"/><circle cx="996.1" cy="670.3" r="4.9"/><circle cx="1003.0" cy="670.1" r="4.9"/><circle cx="1012.4" cy="667.2" r="4.9"/><circle cx="1018.9" cy="669.6" r="4.9"/><circle cx="1025.8" cy="667.7" r="4.9"/><circle cx="1035.9" cy="670.6" r="4.9"/><circle cx="971.5" cy="677.1" r="4.9"/><circle cx="978.1" cy="676.0" r="4.9"/><circle cx="983.3" cy="675.2" r="4.9"/><circle cx="993.5" cy="676.6" r="4.9"/><circle cx="1000.0" cy="677.3" r="4.9"/><circle cx="1006.2" cy="674.8" r="4.9"/><circle cx="1014.2" cy="675.0" r="4.9"/><circle cx="1025.2" cy="677.1" r="4.9"/><circle cx="1030.1" cy="675.0" r="4.9"/><circle cx="1037.7" cy="676.6" r="4.9"/><circle cx="1046.9" cy="674.7" r="4.9"/><circle cx="982.8" cy="681.8" r="4.9"/><circle cx="989.6" cy="681.3" r="4.9"/><circle cx="997.3" cy="682.5" r="4.9"/><circle cx="1005.6" cy="682.8" r="4.9"/><circle cx="1011.6" cy="681.7" r="4.9"/><circle cx="1020.5" cy="684.3" r="4.9"/><circle cx="1028.8" cy="682.6" r="4.9"/><circle cx="1034.8" cy="684.4" r="4.9"/><circle cx="1045.0" cy="681.0" r="4.9"/><circle cx="1002.8" cy="689.4" r="4.9"/><circle cx="1009.3" cy="689.4" r="4.9"/><circle cx="1018.4" cy="690.1" r="4.9"/><circle cx="1023.6" cy="690.1" r="4.9"/><circle cx="1030.7" cy="687.7" r="4.9"/><circle cx="1039.0" cy="687.7" r="4.9"/><circle cx="1045.0" cy="687.5" r="4.9"/><circle cx="982.8" cy="697.7" r="4.9"/><circle cx="981.9" cy="700.6" r="4.9"/><circle cx="992.7" cy="703.7" r="4.9"/><circle cx="999.1" cy="701.5" r="4.9"/><circle cx="1012.0" cy="703.7" r="4.9"/><circle cx="1022.3" cy="704.9" r="4.9"/><circle cx="1032.2" cy="703.6" r="4.9"/><circle cx="1040.3" cy="703.9" r="4.9"/><circle cx="984.4" cy="713.3" r="4.9"/><circle cx="997.9" cy="712.5" r="4.9"/><circle cx="1003.0" cy="713.6" r="4.9"/><circle cx="1015.8" cy="709.9" r="4.9"/><circle cx="1021.9" cy="711.9" r="4.9"/><circle cx="1031.5" cy="714.1" r="4.9"/><circle cx="1044.0" cy="711.9" r="4.9"/><circle cx="992.9" cy="719.0" r="4.9"/><circle cx="999.4" cy="720.6" r="4.9"/><circle cx="1008.8" cy="720.6" r="4.9"/><circle cx="1020.0" cy="719.6" r="4.9"/><circle cx="1030.4" cy="720.3" r="4.9"/><circle cx="1036.7" cy="723.1" r="4.9"/><circle cx="1051.3" cy="739.6" r="4.9"/><circle cx="1052.1" cy="745.1" r="4.9"/><circle cx="1060.7" cy="743.0" r="4.9"/><circle cx="1074.5" cy="745.0" r="4.9"/><circle cx="1083.0" cy="746.8" r="4.9"/><circle cx="1069.4" cy="754.5" r="4.9"/><circle cx="1080.9" cy="753.1" r="4.9"/><circle cx="1089.3" cy="753.1" r="4.9"/></g>
<g fill="#0f0"><circle cx="819.3" cy="488.7" r="4.9"/><circle cx="826.5" cy="497.9" r="4.9"/><circle cx="833.0" cy="500.6" r="4.9"/><circle cx="848.5" cy="508.7" r="4.9"/><circle cx="833.0" cy="516.3" r="4.9"/><circle cx="861.1" cy="516.8" r="4.9"/><circle cx="877.7" cy="515.7" r="4.9"/><circle cx="840.6" cy="522.7" r="4.9"/><circle cx="849.2" cy="526.5" r="4.9"/><circle cx="833.5" cy="534.1" r="4.9"/><circle cx="841.1" cy="530.9" r="4.9"/><circle cx="857.4" cy="538.4" r="4.9"/><circle cx="834.4" cy="543.9" r="4.9"/><circle cx="859.5" cy="547.6" r="4.9"/><circle cx="847.9" cy="552.0" r="4.9"/><circle cx="870.9" cy="557.4" r="4.9"/><circle cx="909.3" cy="553.1" r="4.9"/><circle cx="904.4" cy="559.0" r="4.9"/><circle cx="843.8" cy="564.4" r="4.9"/><circle cx="885.0" cy="565.5" r="4.9"/><circle cx="861.1" cy="570.9" r="4.9"/><circle cx="880.6" cy="573.1" r="4.9"/><circle cx="889.3" cy="580.6" r="4.9"/><circle cx="906.1" cy="577.9" r="4.9"/><circle cx="901.7" cy="584.4" r="4.9"/><circle cx="830.3" cy="577.9" r="4.9"/><circle cx="840.0" cy="578.5" r="4.9"/><circle cx="846.5" cy="574.7" r="4.9"/><circle cx="858.4" cy="583.4" r="4.9"/><circle cx="860.6" cy="589.3" r="4.9"/><circle cx="871.4" cy="584.4" r="4.9"/><circle cx="825.1" cy="590.4" r="4.9"/><circle cx="862.8" cy="598.0" r="4.9"/><circle cx="875.8" cy="598.0" r="4.9"/><circle cx="886.6" cy="599.0" r="4.9"/><circle cx="868.2" cy="604.5" r="4.9"/><circle cx="894.2" cy="603.4" r="4.9"/><circle cx="898.5" cy="605.5" r="4.9"/><circle cx="853.0" cy="604.5" r="4.9"/><circle cx="840.3" cy="607.7" r="4.9"/><circle cx="833.0" cy="615.3" r="4.9"/><circle cx="871.4" cy="617.4" r="4.9"/><circle cx="877.9" cy="623.9" r="4.9"/><circle cx="895.2" cy="613.1" r="4.9"/><circle cx="907.1" cy="613.1" r="4.9"/><circle cx="914.7" cy="612.0" r="4.9"/><circle cx="919.0" cy="615.3" r="4.9"/><circle cx="925.5" cy="622.9" r="4.9"/><circle cx="940.7" cy="622.9" r="4.9"/><circle cx="898.5" cy="621.8" r="4.9"/><circle cx="901.7" cy="627.2" r="4.9"/><circle cx="889.3" cy="627.2" r="4.9"/><circle cx="849.8" cy="620.7" r="4.9"/><circle cx="859.5" cy="625.0" r="4.9"/><circle cx="827.6" cy="631.5" r="4.9"/><circle cx="857.9" cy="637.5" r="4.9"/><circle cx="875.8" cy="633.7" r="4.9"/><circle cx="892.0" cy="636.9" r="4.9"/><circle cx="875.8" cy="642.3" r="4.9"/><circle cx="869.3" cy="648.8" r="4.9"/><circle cx="902.3" cy="640.2" r="4.9"/><circle cx="931.5" cy="631.5" r="4.9"/><circle cx="939.6" cy="633.7" r="4.9"/><circle cx="927.2" cy="643.4" r="4.9"/><circle cx="925.5" cy="653.2" r="4.9"/><circle cx="935.3" cy="640.2" r="4.9"/><circle cx="956.9" cy="646.7" r="4.9"/><circle cx="953.7" cy="656.4" r="4.9"/><circle cx="940.7" cy="660.7" r="4.9"/><circle cx="926.6" cy="659.7" r="4.9"/><circle cx="923.9" cy="668.3" r="4.9"/><circle cx="933.1" cy="673.7" r="4.9"/><circle cx="958.0" cy="669.4" r="4.9"/><circle cx="900.1" cy="651.0" r="4.9"/><circle cx="912.0" cy="651.5" r="4.9"/><circle cx="890.9" cy="662.9" r="4.9"/><circle cx="900.1" cy="663.4" r="4.9"/><circle cx="809.7" cy="646.7" r="4.9"/><circle cx="828.7" cy="645.6" r="4.9"/><circle cx="840.0" cy="645.6" r="4.9"/><circle cx="927.7" cy="565.5" r="4.9"/><circle cx="923.4" cy="566.6" r="4.9"/><circle cx="985.1" cy="577.9" r="4.9"/><circle cx="995.9" cy="647.7" r="4.9"/><circle cx="990.5" cy="678.1" r="4.9"/><circle cx="812.4" cy="677.0" r="4.9"/><circle cx="866.0" cy="678.1" r="4.9"/><circle cx="883.3" cy="674.8" r="4.9"/><circle cx="906.6" cy="678.1" r="4.9"/><circle cx="962.2" cy="679.5" r="4.9"/><circle cx="906.1" cy="718.3" r="4.9"/><circle cx="950.1" cy="695.0" r="4.9"/><circle cx="962.2" cy="694.4" r="4.9"/><circle cx="977.8" cy="695.7" r="4.9"/><circle cx="982.5" cy="691.6" r="4.9"/><circle cx="992.0" cy="695.7" r="4.9"/><circle cx="1000.1" cy="690.3" r="4.9"/><circle cx="1004.8" cy="700.4" r="4.9"/><circle cx="940.6" cy="703.8" r="4.9"/><circle cx="937.9" cy="709.2" r="4.9"/><circle cx="979.8" cy="710.6" r="4.9"/><circle cx="1000.1" cy="716.7" r="4.9"/><circle cx="1020.4" cy="706.5" r="4.9"/><circle cx="1026.5" cy="709.2" r="4.9"/><circle cx="1049.5" cy="716.7" r="4.9"/><circle cx="1058.3" cy="721.4" r="4.9"/><circle cx="1069.8" cy="729.5" r="4.9"/><circle cx="958.2" cy="716.0" r="4.9"/><circle cx="964.9" cy="720.1" r="4.9"/><circle cx="959.5" cy="728.2" r="4.9"/><circle cx="981.8" cy="725.5" r="4.9"/><circle cx="994.0" cy="728.2" r="4.9"/><circle cx="973.7" cy="734.3" r="4.9"/><circle cx="985.2" cy="736.3" r="4.9"/><circle cx="1000.1" cy="740.3" r="4.9"/><circle cx="1015.0" cy="737.6" r="4.9"/><circle cx="1025.8" cy="734.9" r="4.9"/><circle cx="1033.9" cy="732.2" r="4.9"/><circle cx="1035.3" cy="736.3" r="4.9"/><circle cx="921.6" cy="726.8" r="4.9"/><circle cx="932.5" cy="722.8" r="4.9"/><circle cx="932.5" cy="728.2" r="4.9"/><circle cx="946.7" cy="730.9" r="4.9"/><circle cx="933.1" cy="739.0" r="4.9"/><circle cx="932.5" cy="744.4" r="4.9"/><circle cx="939.2" cy="748.5" r="4.9"/><circle cx="948.0" cy="747.1" r="4.9"/><circle cx="905.4" cy="745.8" r="4.9"/><circle cx="918.3" cy="745.1" r="4.9"/><circle cx="963.6" cy="752.5" r="4.9"/><circle cx="969.0" cy="756.6" r="4.9"/><circle cx="985.2" cy="747.1" r="4.9"/><circle cx="992.0" cy="749.8" r="4.9"/><circle cx="998.8" cy="747.1" r="4.9"/><circle cx="1013.0" cy="757.9" r="4.9"/><circle cx="1019.0" cy="764.7" r="4.9"/><circle cx="1034.6" cy="760.6" r="4.9"/><circle cx="1050.8" cy="751.8" r="4.9"/><circle cx="1070.5" cy="751.2" r="4.9"/><circle cx="992.7" cy="765.4" r="4.9"/><circle cx="953.4" cy="768.1" r="4.9"/><circle cx="983.2" cy="778.9" r="4.9"/><circle cx="999.0" cy="783.4" r="4.9"/><circle cx="1021.1" cy="776.9" r="4.9"/><circle cx="1021.8" cy="785.0" r="4.9"/><circle cx="1040.7" cy="770.1" r="4.9"/><circle cx="1059.6" cy="762.0" r="4.9"/><circle cx="1061.0" cy="771.5" r="4.9"/><circle cx="1052.9" cy="775.5" r="4.9"/><circle cx="1067.7" cy="772.8" r="4.9"/><circle cx="1077.2" cy="771.5" r="4.9"/><circle cx="1050.2" cy="791.8" r="4.9"/><circle cx="1076.5" cy="790.4" r="4.9"/><circle cx="1088.7" cy="794.5" r="4.9"/><circle cx="928.4" cy="797.8" r="4.9"/><circle cx="956.1" cy="798.5" r="4.9"/><circle cx="1031.9" cy="805.3" r="4.9"/><circle cx="1038.0" cy="806.0" r="4.9"/><circle cx="1062.3" cy="808.0" r="4.9"/><circle cx="1086.7" cy="806.6" r="4.9"/><circle cx="1027.8" cy="816.8" r="4.9"/><circle cx="908.8" cy="840.7" r="4.9"/><circle cx="1015.7" cy="848.6" r="4.9"/><circle cx="976.8" cy="855.6" r="4.9"/><circle cx="1083.3" cy="833.7" r="4.9"/><circle cx="1082.6" cy="839.8" r="4.9"/><circle cx="1032.3" cy="870.9" r="4.9"/><circle cx="1122.3" cy="878.3" r="4.9"/><circle cx="1120.2" cy="885.1" r="4.9"/><circle cx="1111.0" cy="902.7" r="4.9"/><circle cx="1025.5" cy="912.2" r="4.9"/><circle cx="1141.5" cy="844.5" r="4.9"/><circle cx="791.7" cy="681.2" r="4.9"/><circle cx="825.5" cy="692.9" r="4.9"/><circle cx="805.8" cy="710.4" r="4.9"/><circle cx="832.2" cy="713.1" r="4.9"/><circle cx="854.5" cy="708.4" r="4.9"/><circle cx="850.5" cy="714.5" r="4.9"/><circle cx="851.2" cy="721.3" r="4.9"/><circle cx="862.7" cy="723.3" r="4.9"/><circle cx="844.4" cy="735.9" r="4.9"/><circle cx="756.7" cy="747.9" r="4.9"/><circle cx="872.1" cy="753.1" r="4.9"/><circle cx="886.6" cy="755.8" r="4.9"/><circle cx="831.5" cy="759.1" r="4.9"/><circle cx="838.3" cy="761.8" r="4.9"/><circle cx="887.7" cy="770.0" r="4.9"/><circle cx="868.7" cy="778.1" r="4.9"/><circle cx="826.1" cy="792.6" r="4.9"/><circle cx="843.0" cy="793.0" r="4.9"/><circle cx="830.6" cy="801.8" r="4.9"/><circle cx="874.8" cy="791.6" r="4.9"/><circle cx="791.0" cy="796.3" r="4.9"/><circle cx="745.6" cy="802.4" r="4.9"/><circle cx="762.5" cy="820.3" r="4.9"/><circle cx="805.2" cy="818.9" r="4.9"/><circle cx="841.4" cy="842.7" r="4.9"/><circle cx="854.3" cy="841.0" r="4.9"/><circle cx="814.4" cy="865.6" r="4.9"/><circle cx="762.5" cy="869.8" r="4.9"/><circle cx="807.6" cy="879.3" r="4.9"/><circle cx="828.8" cy="887.7" r="4.9"/><circle cx="860.0" cy="889.7" r="4.9"/><circle cx="746.0" cy="892.7" r="4.9"/><circle cx="779.7" cy="894.8" r="4.9"/><circle cx="809.2" cy="899.8" r="4.9"/><circle cx="822.3" cy="903.2" r="4.9"/><circle cx="817.3" cy="910.0" r="4.9"/><circle cx="740.9" cy="907.9" r="4.9"/><circle cx="748.3" cy="912.0" r="4.9"/><circle cx="828.6" cy="922.6" r="4.9"/><circle cx="860.0" cy="924.9" r="4.9"/><circle cx="709.8" cy="922.8" r="4.9"/><circle cx="704.4" cy="927.6" r="4.9"/><circle cx="752.1" cy="928.9" r="4.9"/><circle cx="743.7" cy="955.2" r="4.9"/><circle cx="746.4" cy="955.8" r="4.9"/><circle cx="635.5" cy="970.7" r="4.9"/><circle cx="734.9" cy="972.8" r="4.9"/><circle cx="778.9" cy="967.1" r="4.9"/><circle cx="789.7" cy="987.0" r="4.9"/><circle cx="627.0" cy="1008.9" r="4.9"/><circle cx="686.2" cy="1007.3" r="4.9"/><circle cx="686.0" cy="1013.3" r="4.9"/><circle cx="740.3" cy="999.8" r="4.9"/><circle cx="729.9" cy="1012.0" r="4.9"/><circle cx="741.0" cy="1012.7" r="4.9"/><circle cx="754.9" cy="1009.3" r="4.9"/><circle cx="768.7" cy="1005.2" r="4.9"/><circle cx="781.3" cy="998.5" r="4.9"/><circle cx="729.0" cy="1027.5" r="4.9"/><circle cx="792.0" cy="1041.5" r="4.9"/><circle cx="681.8" cy="1046.9" r="4.9"/><circle cx="690.3" cy="1053.3" r="4.9"/><circle cx="703.4" cy="1042.8" r="4.9"/><circle cx="737.0" cy="1056.0" r="4.9"/><circle cx="757.2" cy="1060.0" r="4.9"/><circle cx="760.6" cy="1066.8" r="4.9"/><circle cx="777.9" cy="1059.3" r="4.9"/><circle cx="711.0" cy="1070.2" r="4.9"/><circle cx="569.5" cy="1077.6" r="4.9"/><circle cx="714.0" cy="1087.7" r="4.9"/><circle cx="749.8" cy="1091.8" r="4.9"/><circle cx="793.8" cy="1084.8" r="4.9"/><circle cx="714.4" cy="1111.8" r="4.9"/><circle cx="690.3" cy="1122.0" r="4.9"/><circle cx="709.5" cy="1127.7" r="4.9"/><circle cx="723.4" cy="1124.7" r="4.9"/><circle cx="738.6" cy="1121.3" r="4.9"/><circle cx="760.6" cy="1123.3" r="4.9"/><circle cx="793.4" cy="1118.2" r="4.9"/><circle cx="624.9" cy="1137.1" r="4.9"/><circle cx="640.2" cy="1134.4" r="4.9"/><circle cx="615.2" cy="1155.8" r="4.9"/><circle cx="661.6" cy="1160.8" r="4.9"/><circle cx="749.8" cy="1155.4" r="4.9"/><circle cx="747.1" cy="1158.1" r="4.9"/><circle cx="770.8" cy="1155.4" r="4.9"/><circle cx="766.7" cy="1160.8" r="4.9"/><circle cx="782.0" cy="1163.5" r="4.9"/><circle cx="961.9" cy="924.7" r="4.9"/><circle cx="1012.4" cy="934.9" r="4.9"/><circle cx="815.6" cy="943.7" r="4.9"/><circle cx="881.8" cy="941.4" r="4.9"/><circle cx="894.0" cy="933.3" r="4.9"/><circle cx="947.1" cy="953.4" r="4.9"/><circle cx="834.5" cy="972.8" r="4.9"/><circle cx="826.0" cy="982.9" r="4.9"/><circle cx="853.4" cy="989.7" r="4.9"/><circle cx="869.7" cy="993.7" r="4.9"/><circle cx="899.0" cy="973.4" r="4.9"/><circle cx="913.4" cy="989.9" r="4.9"/><circle cx="840.9" cy="1013.8" r="4.9"/><circle cx="933.9" cy="1026.9" r="4.9"/><circle cx="850.1" cy="1034.3" r="4.9"/><circle cx="841.9" cy="1053.5" r="4.9"/><circle cx="889.0" cy="1056.2" r="4.9"/><circle cx="807.8" cy="1060.7" r="4.9"/><circle cx="805.4" cy="1069.9" r="4.9"/><circle cx="816.9" cy="1078.3" r="4.9"/><circle cx="832.9" cy="1087.1" r="4.9"/><circle cx="844.0" cy="1095.9" r="4.9"/><circle cx="813.1" cy="1107.4" r="4.9"/><circle cx="834.1" cy="1118.2" r="4.9"/><circle cx="846.0" cy="1129.7" r="4.9"/><circle cx="910.5" cy="1126.7" r="4.9"/><circle cx="806.4" cy="1136.7" r="4.9"/><circle cx="820.0" cy="1148.4" r="4.9"/><circle cx="870.3" cy="1146.9" r="4.9"/><circle cx="566.9" cy="1176.3" r="4.9"/><circle cx="610.9" cy="1169.8" r="4.9"/><circle cx="616.6" cy="1175.7" r="4.9"/><circle cx="615.1" cy="1180.7" r="4.9"/><circle cx="625.1" cy="1166.9" r="4.9"/><circle cx="637.0" cy="1183.5" r="4.9"/><circle cx="673.1" cy="1173.8" r="4.9"/><circle cx="712.7" cy="1179.5" r="4.9"/><circle cx="718.1" cy="1184.5" r="4.9"/><circle cx="790.0" cy="1185.1" r="4.9"/><circle cx="669.4" cy="1201.9" r="4.9"/><circle cx="666.2" cy="1210.3" r="4.9"/><circle cx="634.4" cy="1210.3" r="4.9"/><circle cx="651.5" cy="1217.6" r="4.9"/><circle cx="678.8" cy="1215.9" r="4.9"/><circle cx="683.2" cy="1217.2" r="4.9"/><circle cx="697.9" cy="1221.6" r="4.9"/><circle cx="707.7" cy="1206.8" r="4.9"/><circle cx="717.1" cy="1211.3" r="4.9"/><circle cx="742.9" cy="1225.4" r="4.9"/><circle cx="746.1" cy="1224.1" r="4.9"/><circle cx="764.9" cy="1222.5" r="4.9"/><circle cx="715.9" cy="1242.1" r="4.9"/><circle cx="690.7" cy="1249.9" r="4.9"/><circle cx="702.3" cy="1249.9" r="4.9"/><circle cx="731.0" cy="1247.6" r="4.9"/><circle cx="741.0" cy="1248.9" r="4.9"/><circle cx="640.5" cy="1256.5" r="4.9"/><circle cx="594.3" cy="1265.8" r="4.9"/><circle cx="675.9" cy="1260.6" r="4.9"/><circle cx="675.7" cy="1265.0" r="4.9"/><circle cx="658.7" cy="1271.2" r="4.9"/><circle cx="696.7" cy="1266.2" r="4.9"/><circle cx="704.6" cy="1273.1" r="4.9"/><circle cx="709.6" cy="1271.9" r="4.9"/><circle cx="718.1" cy="1278.8" r="4.9"/><circle cx="749.2" cy="1265.8" r="4.9"/><circle cx="760.5" cy="1258.9" r="4.9"/><circle cx="778.7" cy="1264.3" r="4.9"/><circle cx="783.8" cy="1259.9" r="4.9"/><circle cx="599.0" cy="1286.3" r="4.9"/><circle cx="637.7" cy="1292.0" r="4.9"/><circle cx="651.8" cy="1288.0" r="4.9"/><circle cx="680.4" cy="1286.1" r="4.9"/><circle cx="796.1" cy="1290.5" r="4.9"/><circle cx="644.0" cy="1307.1" r="4.9"/><circle cx="775.0" cy="1318.4" r="4.9"/><circle cx="709.0" cy="1321.5" r="4.9"/><circle cx="1021.4" cy="1174.0" r="4.9"/><circle cx="822.9" cy="1232.9" r="4.9"/><circle cx="823.4" cy="1241.0" r="4.9"/><circle cx="808.7" cy="1279.5" r="4.9"/><circle cx="832.4" cy="1313.1" r="4.9"/><circle cx="1160.8" cy="927.8" r="4.9"/><circle cx="925.5" cy="646.1" r="4.9"/><circle cx="927.1" cy="655.8" r="4.9"/><circle cx="923.9" cy="665.6" r="4.9"/><circle cx="932.0" cy="672.1" r="4.9"/><circle cx="936.9" cy="670.5" r="4.9"/><circle cx="933.6" cy="638.0" r="4.9"/><circle cx="940.1" cy="634.7" r="4.9"/><circle cx="953.1" cy="651.0" r="4.9"/><circle cx="956.4" cy="646.1" r="4.9"/><circle cx="958.0" cy="672.1" r="4.9"/><circle cx="962.9" cy="678.6" r="4.9"/><circle cx="933.6" cy="662.3" r="4.9"/><circle cx="930.4" cy="629.9" r="4.9"/><circle cx="927.1" cy="638.0" r="4.9"/></g>
</g>
<rect x="42.6" y="52.0" width="512.9" height="1271.5" fill="none" stroke="#262626" stroke-width="2.9"/>
<line x1="42.60" y1="899.65" x2="57.10" y2="899.65" stroke="#262626" stroke-width="2.9" />
<line x1="555.50" y1="899.65" x2="541.00" y2="899.65" stroke="#262626" stroke-width="2.9" />
<line x1="42.60" y1="475.80" x2="57.10" y2="475.80" stroke="#262626" stroke-width="2.9" />
<line x1="555.50" y1="475.80" x2="541.00" y2="475.80" stroke="#262626" stroke-width="2.9" />
<line x1="154.75" y1="52.00" x2="154.75" y2="66.50" stroke="#262626" stroke-width="2.9" />
<line x1="154.75" y1="1323.50" x2="154.75" y2="1309.00" stroke="#262626" stroke-width="2.9" />
<rect x="555.5" y="52.0" width="1259.0" height="1271.5" fill="none" stroke="#262626" stroke-width="2.9"/>
<line x1="555.50" y1="901.15" x2="570.00" y2="901.15" stroke="#262626" stroke-width="2.9" />
<line x1="1814.50" y1="901.15" x2="1800.00" y2="901.15" stroke="#262626" stroke-width="2.9" />
<line x1="555.50" y1="477.30" x2="570.00" y2="477.30" stroke="#262626" stroke-width="2.9" />
<line x1="1814.50" y1="477.30" x2="1800.00" y2="477.30" stroke="#262626" stroke-width="2.9" />
<line x1="713.44" y1="1323.50" x2="713.44" y2="1309.00" stroke="#262626" stroke-width="2.9" />
<line x1="713.44" y1="52.00" x2="713.44" y2="66.50" stroke="#262626" stroke-width="2.9" />
<line x1="1027.94" y1="1323.50" x2="1027.94" y2="1309.00" stroke="#262626" stroke-width="2.9" />
<line x1="1027.94" y1="52.00" x2="1027.94" y2="66.50" stroke="#262626" stroke-width="2.9" />
<line x1="1342.44" y1="1323.50" x2="1342.44" y2="1309.00" stroke="#262626" stroke-width="2.9" />
<line x1="1342.44" y1="52.00" x2="1342.44" y2="66.50" stroke="#262626" stroke-width="2.9" />
<line x1="1656.94" y1="1323.50" x2="1656.94" y2="1309.00" stroke="#262626" stroke-width="2.9" />
<line x1="1656.94" y1="52.00" x2="1656.94" y2="66.50" stroke="#262626" stroke-width="2.9" />
<rect x="555.5" y="1323.5" width="1259.0" height="421.0" fill="none" stroke="#262626" stroke-width="2.9"/>
<line x1="713.44" y1="1744.50" x2="713.44" y2="1730.00" stroke="#262626" stroke-width="2.9" />
<line x1="713.44" y1="1323.50" x2="713.44" y2="1338.00" stroke="#262626" stroke-width="2.9" />
<line x1="1027.94" y1="1744.50" x2="1027.94" y2="1730.00" stroke="#262626" stroke-width="2.9" />
<line x1="1027.94" y1="1323.50" x2="1027.94" y2="1338.00" stroke="#262626" stroke-width="2.9" />
<line x1="1342.44" y1="1744.50" x2="1342.44" y2="1730.00" stroke="#262626" stroke-width="2.9" />
<line x1="1342.44" y1="1323.50" x2="1342.44" y2="1338.00" stroke="#262626" stroke-width="2.9" />
<line x1="1656.94" y1="1744.50" x2="1656.94" y2="1730.00" stroke="#262626" stroke-width="2.9" />
<line x1="1656.94" y1="1323.50" x2="1656.94" y2="1338.00" stroke="#262626" stroke-width="2.9" />
<line x1="555.50" y1="1354.50" x2="570.00" y2="1354.50" stroke="#262626" stroke-width="2.9" />
<line x1="1814.50" y1="1354.50" x2="1800.00" y2="1354.50" stroke="#262626" stroke-width="2.9" />
<rect x="571.9" y="65.6" width="605.1999999999999" height="332.4" fill="#fff"/>
<line x1="649.40" y1="65.60" x2="649.40" y2="398.00" stroke="#dfdfdf" stroke-width="2.2" />
<line x1="805.32" y1="65.60" x2="805.32" y2="398.00" stroke="#dfdfdf" stroke-width="2.2" />
<line x1="961.24" y1="65.60" x2="961.24" y2="398.00" stroke="#dfdfdf" stroke-width="2.2" />
<line x1="1117.16" y1="65.60" x2="1117.16" y2="398.00" stroke="#dfdfdf" stroke-width="2.2" />
<line x1="571.90" y1="348.00" x2="1177.10" y2="348.00" stroke="#dfdfdf" stroke-width="2.2" />
<line x1="571.90" y1="273.60" x2="1177.10" y2="273.60" stroke="#dfdfdf" stroke-width="2.2" />
<line x1="571.90" y1="199.20" x2="1177.10" y2="199.20" stroke="#dfdfdf" stroke-width="2.2" />
<line x1="571.90" y1="124.80" x2="1177.10" y2="124.80" stroke="#dfdfdf" stroke-width="2.2" />
<g clip-path="url(#ci)">
<g fill="#000"><circle cx="701.9" cy="216.2" r="4.9"/><circle cx="698.6" cy="221.6" r="4.9"/><circle cx="700.2" cy="224.9" r="4.9"/><circle cx="681.8" cy="223.3" r="4.9"/><circle cx="680.8" cy="229.2" r="4.9"/><circle cx="698.1" cy="234.1" r="4.9"/><circle cx="674.8" cy="241.7" r="4.9"/><circle cx="685.1" cy="244.9" r="4.9"/><circle cx="691.0" cy="243.8" r="4.9"/><circle cx="671.6" cy="254.7" r="4.9"/><circle cx="685.4" cy="267.6" r="4.9"/><circle cx="713.2" cy="266.9" r="4.9"/><circle cx="660.7" cy="279.9" r="4.9"/><circle cx="657.5" cy="292.0" r="4.9"/><circle cx="673.7" cy="293.3" r="4.9"/><circle cx="683.5" cy="305.8" r="4.9"/><circle cx="679.1" cy="316.7" r="4.9"/><circle cx="620.9" cy="373.7" r="4.9"/><circle cx="649.9" cy="250.9" r="4.9"/><circle cx="642.3" cy="258.4" r="4.9"/><circle cx="632.6" cy="257.9" r="4.9"/><circle cx="660.7" cy="257.4" r="4.9"/><circle cx="665.1" cy="267.1" r="4.9"/><circle cx="651.0" cy="264.9" r="4.9"/><circle cx="649.9" cy="272.5" r="4.9"/><circle cx="659.7" cy="308.2" r="4.9"/><circle cx="662.9" cy="324.5" r="4.9"/><circle cx="653.2" cy="338.5" r="4.9"/><circle cx="639.6" cy="349.4" r="4.9"/><circle cx="630.4" cy="367.7" r="4.9"/><circle cx="589.3" cy="377.5" r="4.9"/><circle cx="595.8" cy="375.3" r="4.9"/><circle cx="604.5" cy="381.8" r="4.9"/><circle cx="588.2" cy="390.5" r="4.9"/><circle cx="585.0" cy="392.6" r="4.9"/><circle cx="599.1" cy="384.0" r="4.9"/><circle cx="591.5" cy="313.6" r="4.9"/><circle cx="596.9" cy="279.0" r="4.9"/><circle cx="590.4" cy="335.3" r="4.9"/><circle cx="578.5" cy="362.3" r="4.9"/><circle cx="577.4" cy="366.7" r="4.9"/><circle cx="768.9" cy="288.9" r="4.9"/><circle cx="805.3" cy="250.4" r="4.9"/><circle cx="826.9" cy="239.3" r="4.9"/><circle cx="833.9" cy="259.4" r="4.9"/><circle cx="879.0" cy="234.3" r="4.9"/><circle cx="923.3" cy="234.0" r="4.9"/><circle cx="628.2" cy="265.0" r="4.9"/><circle cx="620.8" cy="270.9" r="4.9"/><circle cx="628.1" cy="272.6" r="4.9"/><circle cx="632.3" cy="270.1" r="4.9"/><circle cx="611.6" cy="280.3" r="4.9"/><circle cx="616.5" cy="280.4" r="4.9"/><circle cx="622.3" cy="276.1" r="4.9"/><circle cx="630.3" cy="275.9" r="4.9"/><circle cx="635.2" cy="277.6" r="4.9"/><circle cx="608.5" cy="283.9" r="4.9"/><circle cx="612.8" cy="284.8" r="4.9"/><circle cx="618.6" cy="282.9" r="4.9"/><circle cx="628.8" cy="284.0" r="4.9"/><circle cx="633.5" cy="281.6" r="4.9"/><circle cx="639.5" cy="284.2" r="4.9"/><circle cx="610.6" cy="291.9" r="4.9"/><circle cx="615.3" cy="289.5" r="4.9"/><circle cx="623.6" cy="288.9" r="4.9"/><circle cx="629.3" cy="288.7" r="4.9"/><circle cx="636.0" cy="290.2" r="4.9"/><circle cx="605.5" cy="294.7" r="4.9"/><circle cx="614.6" cy="295.1" r="4.9"/><circle cx="621.5" cy="293.9" r="4.9"/><circle cx="625.8" cy="296.2" r="4.9"/><circle cx="635.1" cy="295.2" r="4.9"/><circle cx="638.7" cy="293.7" r="4.9"/><circle cx="611.2" cy="300.2" r="4.9"/><circle cx="615.7" cy="300.9" r="4.9"/><circle cx="622.9" cy="300.9" r="4.9"/><circle cx="631.8" cy="299.7" r="4.9"/><circle cx="634.3" cy="303.4" r="4.9"/><circle cx="606.8" cy="306.1" r="4.9"/><circle cx="614.5" cy="305.0" r="4.9"/><circle cx="621.8" cy="308.0" r="4.9"/><circle cx="628.5" cy="309.0" r="4.9"/><circle cx="635.1" cy="307.5" r="4.9"/><circle cx="637.7" cy="308.2" r="4.9"/><circle cx="595.2" cy="314.6" r="4.9"/><circle cx="603.0" cy="314.2" r="4.9"/><circle cx="609.1" cy="311.5" r="4.9"/><circle cx="616.7" cy="314.4" r="4.9"/><circle cx="621.7" cy="314.3" r="4.9"/><circle cx="631.8" cy="314.4" r="4.9"/><circle cx="638.1" cy="310.6" r="4.9"/><circle cx="644.0" cy="314.6" r="4.9"/><circle cx="598.0" cy="316.7" r="4.9"/><circle cx="608.7" cy="320.3" r="4.9"/><circle cx="611.2" cy="318.7" r="4.9"/><circle cx="619.0" cy="317.9" r="4.9"/><circle cx="625.9" cy="319.4" r="4.9"/><circle cx="633.7" cy="318.1" r="4.9"/><circle cx="638.6" cy="317.9" r="4.9"/><circle cx="644.9" cy="318.9" r="4.9"/><circle cx="597.6" cy="323.9" r="4.9"/><circle cx="604.5" cy="325.1" r="4.9"/><circle cx="609.4" cy="323.9" r="4.9"/><circle cx="616.5" cy="325.4" r="4.9"/><circle cx="622.9" cy="325.4" r="4.9"/><circle cx="629.7" cy="323.4" r="4.9"/><circle cx="636.8" cy="325.4" r="4.9"/><circle cx="641.3" cy="324.1" r="4.9"/><circle cx="649.7" cy="326.3" r="4.9"/><circle cx="600.5" cy="332.1" r="4.9"/><circle cx="607.8" cy="331.2" r="4.9"/><circle cx="614.2" cy="330.6" r="4.9"/><circle cx="618.0" cy="330.7" r="4.9"/><circle cx="624.3" cy="328.7" r="4.9"/><circle cx="634.6" cy="328.2" r="4.9"/><circle cx="638.0" cy="328.5" r="4.9"/><circle cx="648.5" cy="328.8" r="4.9"/><circle cx="651.1" cy="331.9" r="4.9"/><circle cx="598.5" cy="336.5" r="4.9"/><circle cx="604.5" cy="334.0" r="4.9"/><circle cx="611.1" cy="336.1" r="4.9"/><circle cx="617.5" cy="334.3" r="4.9"/><circle cx="624.4" cy="338.2" r="4.9"/><circle cx="627.8" cy="335.3" r="4.9"/><circle cx="636.9" cy="337.7" r="4.9"/><circle cx="642.1" cy="334.6" r="4.9"/><circle cx="648.8" cy="336.7" r="4.9"/><circle cx="591.0" cy="342.0" r="4.9"/><circle cx="602.0" cy="341.6" r="4.9"/><circle cx="607.6" cy="340.4" r="4.9"/><circle cx="614.0" cy="343.2" r="4.9"/><circle cx="620.7" cy="342.0" r="4.9"/><circle cx="626.4" cy="342.6" r="4.9"/><circle cx="635.1" cy="340.3" r="4.9"/><circle cx="638.0" cy="343.1" r="4.9"/><circle cx="595.5" cy="346.5" r="4.9"/><circle cx="603.9" cy="349.9" r="4.9"/><circle cx="608.8" cy="348.7" r="4.9"/><circle cx="616.0" cy="349.5" r="4.9"/><circle cx="623.6" cy="346.6" r="4.9"/><circle cx="628.6" cy="345.6" r="4.9"/><circle cx="636.5" cy="347.2" r="4.9"/><circle cx="586.2" cy="355.2" r="4.9"/><circle cx="594.5" cy="353.9" r="4.9"/><circle cx="599.6" cy="354.7" r="4.9"/><circle cx="608.0" cy="353.1" r="4.9"/><circle cx="619.7" cy="352.3" r="4.9"/><circle cx="625.2" cy="354.7" r="4.9"/><circle cx="584.7" cy="361.3" r="4.9"/><circle cx="588.5" cy="361.1" r="4.9"/><circle cx="595.5" cy="359.0" r="4.9"/><circle cx="604.1" cy="357.5" r="4.9"/><circle cx="623.5" cy="360.2" r="4.9"/><circle cx="627.6" cy="358.7" r="4.9"/><circle cx="584.4" cy="367.0" r="4.9"/><circle cx="594.9" cy="363.3" r="4.9"/><circle cx="601.8" cy="364.6" r="4.9"/><circle cx="583.3" cy="369.5" r="4.9"/><circle cx="590.3" cy="371.6" r="4.9"/><circle cx="594.8" cy="372.8" r="4.9"/><circle cx="588.0" cy="374.7" r="4.9"/><circle cx="593.0" cy="375.6" r="4.9"/><circle cx="601.0" cy="376.2" r="4.9"/><circle cx="590.1" cy="381.0" r="4.9"/><circle cx="595.9" cy="381.2" r="4.9"/></g>
<g fill="#f00"><circle cx="891.1" cy="185.0" r="4.9"/><circle cx="889.0" cy="193.1" r="4.9"/><circle cx="987.9" cy="245.6" r="4.9"/><circle cx="982.5" cy="253.3" r="4.9"/><circle cx="991.1" cy="94.9" r="4.9"/><circle cx="997.0" cy="93.2" r="4.9"/><circle cx="983.3" cy="98.5" r="4.9"/><circle cx="991.0" cy="99.6" r="4.9"/><circle cx="974.6" cy="104.0" r="4.9"/><circle cx="981.0" cy="104.4" r="4.9"/><circle cx="987.1" cy="104.3" r="4.9"/><circle cx="967.3" cy="107.1" r="4.9"/><circle cx="972.5" cy="107.6" r="4.9"/><circle cx="976.9" cy="107.4" r="4.9"/><circle cx="983.4" cy="107.5" r="4.9"/><circle cx="953.9" cy="114.6" r="4.9"/><circle cx="958.7" cy="112.9" r="4.9"/><circle cx="965.1" cy="111.9" r="4.9"/><circle cx="968.6" cy="113.5" r="4.9"/><circle cx="975.7" cy="112.3" r="4.9"/><circle cx="949.2" cy="117.3" r="4.9"/><circle cx="956.9" cy="117.6" r="4.9"/><circle cx="961.5" cy="118.2" r="4.9"/><circle cx="967.3" cy="118.5" r="4.9"/><circle cx="947.5" cy="123.0" r="4.9"/><circle cx="952.1" cy="124.0" r="4.9"/><circle cx="959.5" cy="122.2" r="4.9"/><circle cx="944.4" cy="128.7" r="4.9"/><circle cx="950.9" cy="127.0" r="4.9"/><circle cx="955.3" cy="127.5" r="4.9"/><circle cx="940.0" cy="132.0" r="4.9"/><circle cx="948.3" cy="133.5" r="4.9"/><circle cx="951.8" cy="131.9" r="4.9"/><circle cx="932.7" cy="136.8" r="4.9"/><circle cx="937.5" cy="136.9" r="4.9"/><circle cx="943.8" cy="137.6" r="4.9"/><circle cx="930.4" cy="144.1" r="4.9"/><circle cx="936.0" cy="142.6" r="4.9"/><circle cx="922.4" cy="146.9" r="4.9"/><circle cx="925.7" cy="147.9" r="4.9"/><circle cx="932.8" cy="148.0" r="4.9"/><circle cx="918.4" cy="153.6" r="4.9"/><circle cx="924.6" cy="154.0" r="4.9"/><circle cx="930.6" cy="153.3" r="4.9"/><circle cx="916.9" cy="157.5" r="4.9"/><circle cx="921.2" cy="157.5" r="4.9"/><circle cx="908.3" cy="161.7" r="4.9"/><circle cx="913.7" cy="162.0" r="4.9"/><circle cx="919.0" cy="163.6" r="4.9"/><circle cx="905.0" cy="166.2" r="4.9"/><circle cx="910.8" cy="167.9" r="4.9"/><circle cx="902.5" cy="173.5" r="4.9"/><circle cx="907.8" cy="172.2" r="4.9"/><circle cx="891.9" cy="178.0" r="4.9"/><circle cx="899.3" cy="178.2" r="4.9"/><circle cx="905.2" cy="177.9" r="4.9"/><circle cx="891.0" cy="182.4" r="4.9"/><circle cx="895.3" cy="181.7" r="4.9"/><circle cx="902.5" cy="182.2" r="4.9"/><circle cx="887.1" cy="187.4" r="4.9"/><circle cx="894.1" cy="187.5" r="4.9"/><circle cx="899.1" cy="185.8" r="4.9"/><circle cx="885.7" cy="190.8" r="4.9"/><circle cx="889.3" cy="191.9" r="4.9"/><circle cx="895.2" cy="192.8" r="4.9"/><circle cx="882.0" cy="198.2" r="4.9"/><circle cx="886.9" cy="197.1" r="4.9"/></g>
<g fill="#0f0"><circle cx="870.9" cy="217.4" r="4.9"/><circle cx="878.0" cy="203.3" r="4.9"/><circle cx="888.0" cy="202.1" r="4.9"/><circle cx="894.6" cy="201.6" r="4.9"/><circle cx="944.5" cy="133.0" r="4.9"/><circle cx="986.3" cy="139.9" r="4.9"/><circle cx="988.0" cy="156.9" r="4.9"/><circle cx="1000.9" cy="156.9" r="4.9"/><circle cx="1011.9" cy="161.8" r="4.9"/><circle cx="979.4" cy="166.2" r="4.9"/><circle cx="992.8" cy="170.7" r="4.9"/><circle cx="971.3" cy="162.6" r="4.9"/><circle cx="963.6" cy="163.4" r="4.9"/><circle cx="954.7" cy="160.2" r="4.9"/><circle cx="942.1" cy="205.6" r="4.9"/><circle cx="1010.7" cy="208.0" r="4.9"/><circle cx="1022.0" cy="196.7" r="4.9"/><circle cx="1030.0" cy="169.9" r="4.9"/><circle cx="880.0" cy="204.0" r="4.9"/><circle cx="891.4" cy="200.7" r="4.9"/><circle cx="886.5" cy="199.9" r="4.9"/><circle cx="1019.6" cy="78.2" r="4.9"/><circle cx="1009.9" cy="82.2" r="4.9"/><circle cx="904.4" cy="186.1" r="4.9"/><circle cx="935.2" cy="178.0" r="4.9"/><circle cx="1020.0" cy="78.7" r="4.9"/><circle cx="1082.0" cy="94.9" r="4.9"/><circle cx="1118.5" cy="80.0" r="4.9"/><circle cx="1122.8" cy="81.7" r="4.9"/><circle cx="1150.8" cy="73.2" r="4.9"/><circle cx="1159.3" cy="75.3" r="4.9"/><circle cx="1162.7" cy="79.6" r="4.9"/><circle cx="1154.2" cy="83.8" r="4.9"/><circle cx="1142.3" cy="100.8" r="4.9"/><circle cx="1139.8" cy="112.7" r="4.9"/><circle cx="1142.3" cy="119.5" r="4.9"/><circle cx="1128.7" cy="125.5" r="4.9"/><circle cx="1081.2" cy="145.0" r="4.9"/><circle cx="1097.3" cy="148.4" r="4.9"/><circle cx="1033.6" cy="169.2" r="4.9"/><circle cx="1022.5" cy="196.8" r="4.9"/><circle cx="1051.9" cy="201.9" r="4.9"/><circle cx="1032.7" cy="159.5" r="4.9"/><circle cx="1042.9" cy="159.5" r="4.9"/><circle cx="1058.2" cy="158.6" r="4.9"/><circle cx="960.6" cy="240.7" r="4.9"/><circle cx="966.4" cy="277.9" r="4.9"/><circle cx="998.0" cy="225.8" r="4.9"/><circle cx="1011.8" cy="83.5" r="4.9"/><circle cx="1018.5" cy="82.4" r="4.9"/><circle cx="1024.6" cy="84.8" r="4.9"/><circle cx="1009.0" cy="88.7" r="4.9"/><circle cx="1016.4" cy="87.0" r="4.9"/><circle cx="1022.4" cy="86.9" r="4.9"/><circle cx="1026.3" cy="88.8" r="4.9"/><circle cx="1000.9" cy="91.8" r="4.9"/><circle cx="1009.0" cy="94.3" r="4.9"/><circle cx="1014.7" cy="94.1" r="4.9"/><circle cx="1018.4" cy="91.9" r="4.9"/><circle cx="1025.6" cy="92.0" r="4.9"/><circle cx="991.4" cy="98.9" r="4.9"/><circle cx="998.1" cy="96.8" r="4.9"/><circle cx="1002.7" cy="99.4" r="4.9"/><circle cx="1008.8" cy="99.2" r="4.9"/><circle cx="1014.7" cy="98.0" r="4.9"/><circle cx="1020.3" cy="98.5" r="4.9"/><circle cx="1028.7" cy="97.5" r="4.9"/><circle cx="988.4" cy="105.0" r="4.9"/><circle cx="994.0" cy="105.0" r="4.9"/><circle cx="1003.0" cy="103.3" r="4.9"/><circle cx="1008.4" cy="101.9" r="4.9"/><circle cx="1011.8" cy="101.8" r="4.9"/><circle cx="1017.4" cy="101.7" r="4.9"/><circle cx="1025.9" cy="102.0" r="4.9"/><circle cx="976.6" cy="109.8" r="4.9"/><circle cx="982.2" cy="108.0" r="4.9"/><circle cx="985.9" cy="107.2" r="4.9"/><circle cx="992.2" cy="109.8" r="4.9"/><circle cx="998.0" cy="106.8" r="4.9"/><circle cx="1003.7" cy="107.1" r="4.9"/><circle cx="1010.6" cy="109.5" r="4.9"/><circle cx="1017.5" cy="107.1" r="4.9"/><circle cx="1021.5" cy="107.2" r="4.9"/><circle cx="1029.2" cy="109.8" r="4.9"/><circle cx="978.5" cy="114.9" r="4.9"/><circle cx="984.7" cy="113.5" r="4.9"/><circle cx="988.4" cy="114.0" r="4.9"/><circle cx="995.4" cy="114.7" r="4.9"/><circle cx="1001.7" cy="114.5" r="4.9"/><circle cx="1008.9" cy="114.1" r="4.9"/><circle cx="1014.6" cy="112.8" r="4.9"/><circle cx="1017.2" cy="114.9" r="4.9"/><circle cx="1023.2" cy="115.4" r="4.9"/><circle cx="965.1" cy="119.9" r="4.9"/><circle cx="969.0" cy="117.8" r="4.9"/><circle cx="975.3" cy="118.1" r="4.9"/><circle cx="981.1" cy="120.0" r="4.9"/><circle cx="986.7" cy="120.4" r="4.9"/><circle cx="993.4" cy="117.1" r="4.9"/><circle cx="999.4" cy="119.2" r="4.9"/><circle cx="1004.8" cy="116.9" r="4.9"/><circle cx="1011.5" cy="118.7" r="4.9"/><circle cx="1016.2" cy="117.5" r="4.9"/><circle cx="1020.3" cy="117.0" r="4.9"/><circle cx="1026.7" cy="117.9" r="4.9"/><circle cx="962.1" cy="123.6" r="4.9"/><circle cx="966.9" cy="124.9" r="4.9"/><circle cx="971.3" cy="122.9" r="4.9"/><circle cx="979.7" cy="123.1" r="4.9"/><circle cx="983.7" cy="123.3" r="4.9"/><circle cx="991.4" cy="123.9" r="4.9"/><circle cx="997.0" cy="122.6" r="4.9"/><circle cx="1000.6" cy="124.3" r="4.9"/><circle cx="1006.6" cy="124.3" r="4.9"/><circle cx="1013.1" cy="122.2" r="4.9"/><circle cx="1017.6" cy="123.5" r="4.9"/><circle cx="1024.9" cy="122.6" r="4.9"/><circle cx="963.4" cy="127.3" r="4.9"/><circle cx="968.5" cy="127.7" r="4.9"/><circle cx="973.8" cy="127.4" r="4.9"/><circle cx="979.3" cy="127.8" r="4.9"/><circle cx="986.2" cy="128.5" r="4.9"/><circle cx="993.3" cy="129.1" r="4.9"/><circle cx="998.4" cy="128.2" r="4.9"/><circle cx="1004.8" cy="127.7" r="4.9"/><circle cx="1009.1" cy="127.4" r="4.9"/><circle cx="1016.6" cy="127.5" r="4.9"/><circle cx="1020.9" cy="128.3" r="4.9"/><circle cx="1028.0" cy="129.3" r="4.9"/><circle cx="954.6" cy="132.5" r="4.9"/><circle cx="961.9" cy="132.6" r="4.9"/><circle cx="966.6" cy="134.5" r="4.9"/><circle cx="972.1" cy="133.2" r="4.9"/><circle cx="977.9" cy="135.6" r="4.9"/><circle cx="982.2" cy="135.2" r="4.9"/><circle cx="990.1" cy="133.8" r="4.9"/><circle cx="996.1" cy="134.3" r="4.9"/><circle cx="1002.6" cy="135.5" r="4.9"/><circle cx="1007.4" cy="133.3" r="4.9"/><circle cx="1012.6" cy="135.3" r="4.9"/><circle cx="1018.9" cy="132.3" r="4.9"/><circle cx="1025.1" cy="132.5" r="4.9"/><circle cx="946.4" cy="139.1" r="4.9"/><circle cx="951.7" cy="140.4" r="4.9"/><circle cx="957.5" cy="137.9" r="4.9"/><circle cx="965.1" cy="137.5" r="4.9"/><circle cx="967.7" cy="137.9" r="4.9"/><circle cx="976.8" cy="138.6" r="4.9"/><circle cx="980.5" cy="138.5" r="4.9"/><circle cx="986.3" cy="139.8" r="4.9"/><circle cx="993.1" cy="138.2" r="4.9"/><circle cx="997.5" cy="140.0" r="4.9"/><circle cx="1004.6" cy="138.9" r="4.9"/><circle cx="1016.1" cy="140.4" r="4.9"/><circle cx="1022.5" cy="139.4" r="4.9"/><circle cx="1026.0" cy="140.4" r="4.9"/><circle cx="936.4" cy="144.3" r="4.9"/><circle cx="941.4" cy="142.6" r="4.9"/><circle cx="948.9" cy="142.9" r="4.9"/><circle cx="953.6" cy="143.7" r="4.9"/><circle cx="960.8" cy="144.5" r="4.9"/><circle cx="966.7" cy="143.9" r="4.9"/><circle cx="972.0" cy="145.3" r="4.9"/><circle cx="979.4" cy="145.4" r="4.9"/><circle cx="985.4" cy="144.6" r="4.9"/><circle cx="988.7" cy="144.7" r="4.9"/><circle cx="994.9" cy="143.3" r="4.9"/><circle cx="1001.1" cy="142.3" r="4.9"/><circle cx="1012.1" cy="143.8" r="4.9"/><circle cx="1019.9" cy="144.5" r="4.9"/><circle cx="1024.2" cy="144.7" r="4.9"/><circle cx="935.8" cy="150.2" r="4.9"/><circle cx="938.4" cy="148.6" r="4.9"/><circle cx="945.4" cy="147.7" r="4.9"/><circle cx="951.0" cy="150.7" r="4.9"/><circle cx="959.1" cy="148.2" r="4.9"/><circle cx="964.4" cy="147.7" r="4.9"/><circle cx="982.7" cy="149.3" r="4.9"/><circle cx="988.3" cy="148.1" r="4.9"/><circle cx="1017.3" cy="149.9" r="4.9"/><circle cx="1021.5" cy="149.3" r="4.9"/><circle cx="1028.9" cy="147.5" r="4.9"/><circle cx="929.7" cy="153.7" r="4.9"/><circle cx="936.8" cy="154.1" r="4.9"/><circle cx="942.1" cy="155.6" r="4.9"/><circle cx="949.1" cy="153.5" r="4.9"/><circle cx="955.2" cy="153.7" r="4.9"/><circle cx="1026.0" cy="152.4" r="4.9"/><circle cx="922.1" cy="160.7" r="4.9"/><circle cx="927.5" cy="160.5" r="4.9"/><circle cx="934.7" cy="160.1" r="4.9"/><circle cx="938.7" cy="160.2" r="4.9"/><circle cx="945.6" cy="160.0" r="4.9"/><circle cx="950.1" cy="158.5" r="4.9"/><circle cx="918.6" cy="164.7" r="4.9"/><circle cx="926.1" cy="163.6" r="4.9"/><circle cx="932.3" cy="162.7" r="4.9"/><circle cx="935.4" cy="163.7" r="4.9"/><circle cx="943.6" cy="165.4" r="4.9"/><circle cx="950.4" cy="165.7" r="4.9"/><circle cx="912.3" cy="168.4" r="4.9"/><circle cx="916.4" cy="168.4" r="4.9"/><circle cx="921.2" cy="167.6" r="4.9"/><circle cx="929.0" cy="170.4" r="4.9"/><circle cx="933.6" cy="169.1" r="4.9"/><circle cx="941.2" cy="167.7" r="4.9"/><circle cx="945.1" cy="170.1" r="4.9"/><circle cx="909.2" cy="175.2" r="4.9"/><circle cx="914.3" cy="176.1" r="4.9"/><circle cx="918.0" cy="175.3" r="4.9"/><circle cx="924.2" cy="175.9" r="4.9"/><circle cx="929.6" cy="173.7" r="4.9"/><circle cx="937.3" cy="174.2" r="4.9"/><circle cx="944.0" cy="172.8" r="4.9"/><circle cx="905.3" cy="180.7" r="4.9"/><circle cx="912.1" cy="178.4" r="4.9"/><circle cx="915.1" cy="179.6" r="4.9"/><circle cx="927.1" cy="178.1" r="4.9"/><circle cx="935.5" cy="179.8" r="4.9"/><circle cx="938.5" cy="179.6" r="4.9"/><circle cx="903.4" cy="185.2" r="4.9"/><circle cx="908.5" cy="184.8" r="4.9"/><circle cx="905.4" cy="188.6" r="4.9"/><circle cx="891.0" cy="196.1" r="4.9"/><circle cx="896.9" cy="193.0" r="4.9"/><circle cx="888.1" cy="201.1" r="4.9"/><circle cx="895.0" cy="199.8" r="4.9"/><circle cx="890.8" cy="203.3" r="4.9"/><circle cx="894.7" cy="203.4" r="4.9"/><circle cx="1021.7" cy="90.6" r="4.9"/><circle cx="1031.6" cy="91.5" r="4.9"/><circle cx="1037.2" cy="92.2" r="4.9"/><circle cx="1045.1" cy="90.9" r="4.9"/><circle cx="1053.8" cy="92.7" r="4.9"/><circle cx="1058.6" cy="92.1" r="4.9"/><circle cx="1132.3" cy="91.6" r="4.9"/><circle cx="1021.4" cy="100.0" r="4.9"/><circle cx="1027.1" cy="98.8" r="4.9"/><circle cx="1032.6" cy="98.9" r="4.9"/><circle cx="1042.3" cy="100.2" r="4.9"/><circle cx="1050.2" cy="97.1" r="4.9"/><circle cx="1055.6" cy="98.8" r="4.9"/><circle cx="1061.3" cy="97.9" r="4.9"/><circle cx="1091.7" cy="99.6" r="4.9"/><circle cx="1097.7" cy="97.9" r="4.9"/><circle cx="1115.2" cy="99.6" r="4.9"/><circle cx="1120.2" cy="97.7" r="4.9"/><circle cx="1127.7" cy="99.7" r="4.9"/><circle cx="1022.2" cy="103.1" r="4.9"/><circle cx="1029.7" cy="104.2" r="4.9"/><circle cx="1038.4" cy="103.3" r="4.9"/><circle cx="1043.1" cy="104.0" r="4.9"/><circle cx="1051.9" cy="104.6" r="4.9"/><circle cx="1061.7" cy="105.2" r="4.9"/><circle cx="1067.0" cy="104.8" r="4.9"/><circle cx="1083.1" cy="105.5" r="4.9"/><circle cx="1090.3" cy="105.6" r="4.9"/><circle cx="1095.4" cy="103.9" r="4.9"/><circle cx="1101.3" cy="104.9" r="4.9"/><circle cx="1116.3" cy="102.9" r="4.9"/><circle cx="1124.0" cy="102.4" r="4.9"/><circle cx="1025.2" cy="112.2" r="4.9"/><circle cx="1035.0" cy="109.1" r="4.9"/><circle cx="1040.6" cy="109.9" r="4.9"/><circle cx="1048.3" cy="108.9" r="4.9"/><circle cx="1057.6" cy="112.7" r="4.9"/><circle cx="1063.2" cy="110.5" r="4.9"/><circle cx="1068.8" cy="108.8" r="4.9"/><circle cx="1077.1" cy="109.5" r="4.9"/><circle cx="1086.4" cy="109.1" r="4.9"/><circle cx="1090.2" cy="112.5" r="4.9"/><circle cx="1099.5" cy="109.0" r="4.9"/><circle cx="1106.8" cy="108.5" r="4.9"/><circle cx="1114.0" cy="112.6" r="4.9"/><circle cx="1122.7" cy="111.4" r="4.9"/><circle cx="1023.7" cy="118.0" r="4.9"/><circle cx="1030.1" cy="115.6" r="4.9"/><circle cx="1039.4" cy="118.9" r="4.9"/><circle cx="1046.8" cy="118.2" r="4.9"/><circle cx="1053.9" cy="117.8" r="4.9"/><circle cx="1058.6" cy="116.9" r="4.9"/><circle cx="1066.3" cy="114.8" r="4.9"/><circle cx="1072.1" cy="115.9" r="4.9"/><circle cx="1080.3" cy="117.7" r="4.9"/><circle cx="1090.6" cy="116.5" r="4.9"/><circle cx="1097.7" cy="118.9" r="4.9"/><circle cx="1105.0" cy="116.2" r="4.9"/><circle cx="1109.0" cy="115.6" r="4.9"/><circle cx="1116.2" cy="115.5" r="4.9"/><circle cx="1125.3" cy="118.5" r="4.9"/><circle cx="1020.7" cy="124.4" r="4.9"/><circle cx="1025.4" cy="123.8" r="4.9"/><circle cx="1036.2" cy="124.3" r="4.9"/><circle cx="1042.8" cy="123.0" r="4.9"/><circle cx="1047.5" cy="124.3" r="4.9"/><circle cx="1055.3" cy="124.4" r="4.9"/><circle cx="1065.4" cy="122.6" r="4.9"/><circle cx="1070.1" cy="125.0" r="4.9"/><circle cx="1078.7" cy="121.6" r="4.9"/><circle cx="1083.4" cy="121.6" r="4.9"/><circle cx="1094.0" cy="124.4" r="4.9"/><circle cx="1097.9" cy="124.5" r="4.9"/><circle cx="1108.7" cy="123.8" r="4.9"/><circle cx="1113.2" cy="123.3" r="4.9"/><circle cx="1119.5" cy="121.0" r="4.9"/><circle cx="1130.4" cy="123.7" r="4.9"/><circle cx="1023.3" cy="130.9" r="4.9"/><circle cx="1032.2" cy="128.1" r="4.9"/><circle cx="1037.0" cy="128.4" r="4.9"/><circle cx="1044.1" cy="129.7" r="4.9"/><circle cx="1051.4" cy="129.0" r="4.9"/><circle cx="1058.1" cy="131.1" r="4.9"/><circle cx="1066.3" cy="129.1" r="4.9"/><circle cx="1074.5" cy="131.1" r="4.9"/><circle cx="1081.0" cy="131.2" r="4.9"/><circle cx="1088.6" cy="129.5" r="4.9"/><circle cx="1096.0" cy="127.3" r="4.9"/><circle cx="1102.7" cy="127.9" r="4.9"/><circle cx="1108.1" cy="130.7" r="4.9"/><circle cx="1020.3" cy="136.8" r="4.9"/><circle cx="1025.5" cy="135.8" r="4.9"/><circle cx="1033.3" cy="134.6" r="4.9"/><circle cx="1042.9" cy="135.6" r="4.9"/><circle cx="1049.1" cy="136.7" r="4.9"/><circle cx="1057.9" cy="135.3" r="4.9"/><circle cx="1063.8" cy="135.6" r="4.9"/><circle cx="1070.6" cy="136.4" r="4.9"/><circle cx="1077.6" cy="135.7" r="4.9"/><circle cx="1084.9" cy="137.4" r="4.9"/><circle cx="1093.1" cy="137.2" r="4.9"/><circle cx="1101.4" cy="134.6" r="4.9"/><circle cx="1106.9" cy="137.4" r="4.9"/><circle cx="1024.8" cy="143.6" r="4.9"/><circle cx="1029.3" cy="142.8" r="4.9"/><circle cx="1038.8" cy="140.3" r="4.9"/><circle cx="1046.9" cy="143.8" r="4.9"/><circle cx="1051.3" cy="143.8" r="4.9"/><circle cx="1059.2" cy="141.8" r="4.9"/><circle cx="1069.0" cy="143.2" r="4.9"/><circle cx="1072.7" cy="141.5" r="4.9"/><circle cx="1081.4" cy="141.1" r="4.9"/><circle cx="1087.3" cy="141.0" r="4.9"/><circle cx="1096.8" cy="139.7" r="4.9"/><circle cx="1103.3" cy="141.5" r="4.9"/><circle cx="1025.3" cy="149.3" r="4.9"/><circle cx="1033.4" cy="146.5" r="4.9"/><circle cx="1041.3" cy="149.9" r="4.9"/><circle cx="1050.2" cy="147.0" r="4.9"/><circle cx="1054.6" cy="149.9" r="4.9"/><circle cx="1063.7" cy="148.9" r="4.9"/><circle cx="1068.8" cy="146.2" r="4.9"/><circle cx="1097.7" cy="149.6" r="4.9"/><circle cx="1022.0" cy="152.8" r="4.9"/><circle cx="1028.9" cy="153.1" r="4.9"/><circle cx="1037.2" cy="153.5" r="4.9"/><circle cx="1046.4" cy="153.4" r="4.9"/><circle cx="1052.5" cy="152.9" r="4.9"/><circle cx="1059.1" cy="152.2" r="4.9"/><circle cx="1040.6" cy="159.1" r="4.9"/><circle cx="1047.1" cy="162.1" r="4.9"/><circle cx="1057.7" cy="161.3" r="4.9"/></g>
</g>
<rect x="571.9" y="65.6" width="605.1999999999999" height="332.4" fill="none" stroke="#262626" stroke-width="2.9"/>
<line x1="649.40" y1="398.00" x2="649.40" y2="390.00" stroke="#262626" stroke-width="2.9" />
<line x1="649.40" y1="65.60" x2="649.40" y2="73.60" stroke="#262626" stroke-width="2.9" />
<line x1="805.32" y1="398.00" x2="805.32" y2="390.00" stroke="#262626" stroke-width="2.9" />
<line x1="805.32" y1="65.60" x2="805.32" y2="73.60" stroke="#262626" stroke-width="2.9" />
<line x1="961.24" y1="398.00" x2="961.24" y2="390.00" stroke="#262626" stroke-width="2.9" />
<line x1="961.24" y1="65.60" x2="961.24" y2="73.60" stroke="#262626" stroke-width="2.9" />
<line x1="1117.16" y1="398.00" x2="1117.16" y2="390.00" stroke="#262626" stroke-width="2.9" />
<line x1="1117.16" y1="65.60" x2="1117.16" y2="73.60" stroke="#262626" stroke-width="2.9" />
<line x1="571.90" y1="348.00" x2="579.90" y2="348.00" stroke="#262626" stroke-width="2.9" />
<line x1="1177.10" y1="348.00" x2="1169.10" y2="348.00" stroke="#262626" stroke-width="2.9" />
<line x1="571.90" y1="273.60" x2="579.90" y2="273.60" stroke="#262626" stroke-width="2.9" />
<line x1="1177.10" y1="273.60" x2="1169.10" y2="273.60" stroke="#262626" stroke-width="2.9" />
<line x1="571.90" y1="199.20" x2="579.90" y2="199.20" stroke="#262626" stroke-width="2.9" />
<line x1="1177.10" y1="199.20" x2="1169.10" y2="199.20" stroke="#262626" stroke-width="2.9" />
<line x1="571.90" y1="124.80" x2="579.90" y2="124.80" stroke="#262626" stroke-width="2.9" />
<line x1="1177.10" y1="124.80" x2="1169.10" y2="124.80" stroke="#262626" stroke-width="2.9" />
<rect x="1275" y="1071.7" width="506" height="231.3" fill="#fff" stroke="#000" stroke-width="2.9"/>
<ellipse cx="1352.6" cy="1117.3" rx="18.7" ry="21" fill="#000"/>
<ellipse cx="1352.6" cy="1185.8" rx="18.7" ry="21" fill="#f00"/>
<ellipse cx="1352.6" cy="1261.3" rx="18.7" ry="21" fill="#0f0"/>
<text x="1836.50" y="76.90" font-size="72" text-anchor="start" fill="#262626" font-family="'Liberation Serif', serif"  letter-spacing="-2.5">1.5</text>
<text x="1836.50" y="501.00" font-size="72" text-anchor="start" fill="#262626" font-family="'Liberation Serif', serif" >1</text>
<text x="1836.50" y="925.30" font-size="72" text-anchor="start" fill="#262626" font-family="'Liberation Serif', serif"  letter-spacing="-1.5">0.5</text>
<text x="1836.50" y="1351.10" font-size="72" text-anchor="start" fill="#262626" font-family="'Liberation Serif', serif" >0</text>
<text x="711.44" y="1833.30" font-size="72" text-anchor="middle" fill="#262626" font-family="'Liberation Serif', serif"  letter-spacing="-1.7">-0.3</text>
<text x="1027.94" y="1833.30" font-size="72" text-anchor="middle" fill="#262626" font-family="'Liberation Serif', serif"  letter-spacing="-0.4">-0.2</text>
<text x="1339.94" y="1833.30" font-size="72" text-anchor="middle" fill="#262626" font-family="'Liberation Serif', serif"  letter-spacing="-2.0">-0.1</text>
<text x="1656.94" y="1833.30" font-size="72" text-anchor="middle" fill="#262626" font-family="'Liberation Serif', serif" >0</text>
<text x="997.60" y="1925.40" font-size="78" text-anchor="start" fill="#262626" font-family="'Liberation Serif', serif" >Strain</text>
<text x="1202.90" y="1925.40" font-size="70" text-anchor="start" fill="#262626" font-family="'Liberation Serif', serif" >&#x3F5;</text>
<text x="1254.90" y="1925.40" font-size="78" text-anchor="start" fill="#262626" font-family="'Liberation Serif', serif" >(<tspan font-style="italic">%</tspan>)</text>
<text transform="translate(2033.2,940.5) rotate(-90)" font-size="78" fill="#262626" font-family="'Liberation Serif', serif">n<tspan font-size="63" dy="35.7">2D</tspan><tspan dy="-35.7"> (10</tspan><tspan font-size="63" dy="-36.7">13</tspan><tspan dy="36.7"> cm</tspan><tspan font-size="63" dy="-36.7">-2</tspan><tspan dy="36.7">)</tspan></text>
<text x="1201.50" y="149.10" font-size="72" text-anchor="start" fill="#262626" font-family="'Liberation Serif', serif"  letter-spacing="-1.8">1600</text>
<text x="1201.50" y="224.10" font-size="72" text-anchor="start" fill="#262626" font-family="'Liberation Serif', serif"  letter-spacing="-1.8">1595</text>
<text x="1201.50" y="298.80" font-size="72" text-anchor="start" fill="#262626" font-family="'Liberation Serif', serif"  letter-spacing="-1.8">1590</text>
<text x="1201.50" y="373.50" font-size="72" text-anchor="start" fill="#262626" font-family="'Liberation Serif', serif"  letter-spacing="-1.8">1585</text>
<text x="648.90" y="486.80" font-size="72" text-anchor="middle" fill="#262626" font-family="'Liberation Serif', serif"  letter-spacing="-0.7">2680</text>
<text x="804.82" y="486.80" font-size="72" text-anchor="middle" fill="#262626" font-family="'Liberation Serif', serif"  letter-spacing="-0.7">2700</text>
<text x="960.74" y="486.80" font-size="72" text-anchor="middle" fill="#262626" font-family="'Liberation Serif', serif"  letter-spacing="-0.7">2720</text>
<text x="1116.66" y="486.80" font-size="72" text-anchor="middle" fill="#262626" font-family="'Liberation Serif', serif"  letter-spacing="-0.7">2740</text>
<text transform="translate(1399.6,294.2) rotate(-90)" font-size="70" fill="#262626" font-family="'Liberation Serif', serif"><tspan font-style="italic">&#x3C9;</tspan><tspan font-size="62" dy="36">G</tspan></text>
<text x="1047" y="543" font-size="70" fill="#262626" font-family="'Liberation Serif', serif"><tspan font-style="italic">&#x3C9;</tspan><tspan font-size="62" dy="35.5" dx="1">2D</tspan></text>
<text x="1427.40" y="1137.40" font-size="63.5" text-anchor="start" fill="#000" font-family="'Liberation Serif', serif" >QFMLG</text>
<text x="1427.40" y="1210.70" font-size="63.5" text-anchor="start" fill="#000" font-family="'Liberation Serif', serif" >SLG-argon</text>
<text x="1427.40" y="1284.80" font-size="63.5" text-anchor="start" fill="#000" font-family="'Liberation Serif', serif" >SLG-vacuum</text>
</svg></body></html>
